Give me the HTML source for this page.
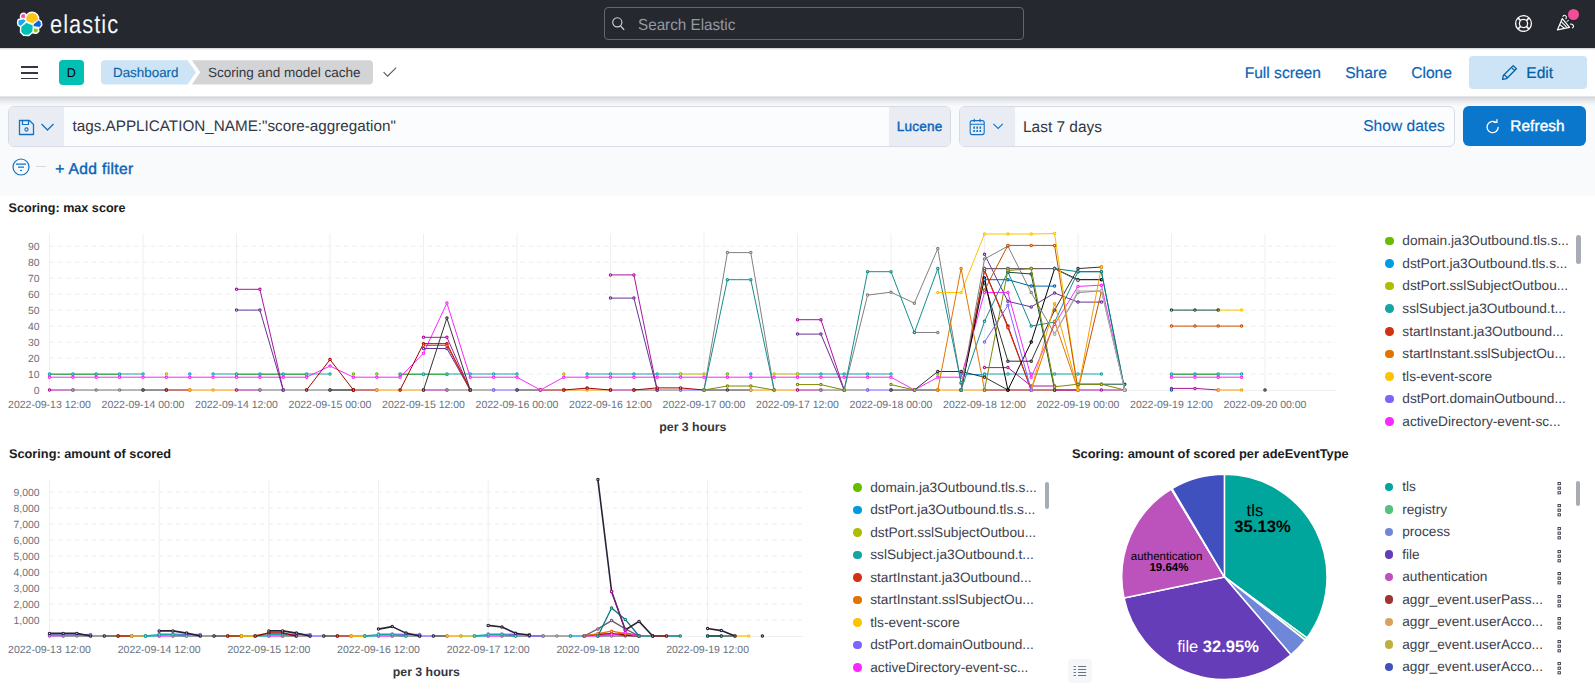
<!DOCTYPE html>
<html><head><meta charset="utf-8"><title>Scoring and model cache - Elastic</title>
<style>
html,body{margin:0;padding:0;width:1595px;height:691px;overflow:hidden;background:#fff;font-family:'Liberation Sans', Arial, sans-serif;text-rendering:geometricPrecision;}
div{white-space:nowrap;}
</style></head><body>

<div style="position:absolute;left:0;top:0;width:1595px;height:48px;background:#25282f;"></div>
<svg style="position:absolute;left:14px;top:8px" width="32" height="32" viewBox="0 0 32 32"><path d="M11.9 11.4 A6.25 6.25 0 1 1 24.3 11.9 L18.5 15.7 L12.6 13.3 Z M7 7.2 Q8 5.4 10.2 5.7 L11.2 6.4 L11.4 10.3 L7.2 10.2 Q6.5 8.5 7 7.2 Z M4.6 11.9 L9.6 10.9 L11.8 12.6 L11.9 13.2 L6.8 18.3 L4.5 17 L3.9 14.5 Z M7 18.8 L12.4 14.5 L18.7 16.9 L19 17.4 L18.8 23.6 L14.6 27.1 L9.8 27 L6.9 24 Z M19.3 16.2 L24.5 12.1 L26.8 13.7 L27.4 16.8 L25.6 19.4 L19.5 18.4 Z M19.4 19.9 L24 20.6 L24.4 23.2 L22.4 24.8 L19.7 24.7 Z" fill="#fff" stroke="#fff" stroke-width="2.2" stroke-linejoin="round"/><g stroke="#fff" stroke-width="0.7" stroke-linejoin="round"><path d="M11.9 11.4 A6.25 6.25 0 1 1 24.3 11.9 L18.5 15.7 L12.6 13.3 Z" fill="#fec514"/><path d="M7 7.2 Q8 5.4 10.2 5.7 L11.2 6.4 L11.4 10.3 L7.2 10.2 Q6.5 8.5 7 7.2 Z" fill="#f04e98"/><path d="M4.6 11.9 L9.6 10.9 L11.8 12.6 L11.9 13.2 L6.8 18.3 L4.5 17 L3.9 14.5 Z" fill="#1ba9f5"/><path d="M7 18.8 L12.4 14.5 L18.7 16.9 L19 17.4 L18.8 23.6 L14.6 27.1 L9.8 27 L6.9 24 Z" fill="#00bfb3"/><path d="M19.3 16.2 L24.5 12.1 L26.8 13.7 L27.4 16.8 L25.6 19.4 L19.5 18.4 Z" fill="#0b64dd"/><path d="M19.4 19.9 L24 20.6 L24.4 23.2 L22.4 24.8 L19.7 24.7 Z" fill="#93c90e"/></g></svg>
<div style="position:absolute;left:50.4px;top:9.6px;font-family:'Liberation Sans', Arial, sans-serif;font-size:23.5px;line-height:normal;color:#f5f7fa;letter-spacing:1.1px;transform:scale(0.93,1.1);transform-origin:0 0;">elastic</div>
<div style="position:absolute;left:604px;top:7px;width:418px;height:31px;border:1px solid #62666e;border-radius:4px;"></div>
<svg style="position:absolute;left:611px;top:15.7px" width="16" height="16" viewBox="0 0 16 16"><circle cx="6.3" cy="6.3" r="4.6" fill="none" stroke="#d4d8de" stroke-width="1.1"/><path d="M9.6 10 L13.2 13.8" stroke="#d4d8de" stroke-width="1.2"/></svg>
<div style="position:absolute;left:638.00px;top:17.00px;font-family:'Liberation Sans', Arial, sans-serif;font-size:16px;font-weight:normal;line-height:normal;color:#959aa3;transform:scaleX(0.952);transform-origin:0 0;">Search Elastic</div>
<svg style="position:absolute;left:1514px;top:14px" width="19" height="19" viewBox="0 0 19 19"><circle cx="9.5" cy="9.5" r="7.9" fill="none" stroke="#fff" stroke-width="1.3"/><circle cx="9.5" cy="9.5" r="4.1" fill="none" stroke="#fff" stroke-width="1.3"/><path d="M3.9 3.9 L6.6 6.6 M15.1 3.9 L12.4 6.6 M3.9 15.1 L6.6 12.4 M15.1 15.1 L12.4 12.4" stroke="#fff" stroke-width="1.5"/></svg>
<svg style="position:absolute;left:1555px;top:13px" width="22" height="20" viewBox="0 0 22 20"><path d="M2.4 16.9 L7.3 5.6 L14.5 14.3 Z" fill="none" stroke="#fff" stroke-width="1.2" stroke-linejoin="round"/><path d="M4.9 11.6 L9.6 15.5 M6.3 8.6 L11.9 14.3" stroke="#fff" stroke-width="1.05"/><path d="M7.9 3.4 Q9.6 1.2 11.3 3.6 Q11.6 4.8 10.8 5.8" stroke="#fff" stroke-width="1.05" fill="none" stroke-linecap="round"/><path d="M15.4 11.1 Q18.2 10.9 18.6 13.4 Q18.3 14.6 17.4 14.9" stroke="#fff" stroke-width="1.05" fill="none" stroke-linecap="round"/><path d="M11.6 8.6 L13.8 7.2" stroke="#fff" stroke-width="1"/></svg>
<div style="position:absolute;left:1568.1px;top:9.4px;width:11px;height:11px;border-radius:50%;background:#f04e98;"></div>


<div style="position:absolute;left:0;top:48px;width:1595px;height:48px;background:#fff;"></div>
<div style="position:absolute;left:0;top:48px;width:1595px;height:3px;background:linear-gradient(to bottom,#c9ccd1,#f3f4f6 1.5px,#fff 3px);"></div>
<div style="position:absolute;left:21px;top:66px;width:17px;height:1.8px;background:#343741;"></div>
<div style="position:absolute;left:21px;top:72.1px;width:17px;height:1.8px;background:#343741;"></div>
<div style="position:absolute;left:21px;top:77.5px;width:17px;height:1.8px;background:#343741;"></div>
<div style="position:absolute;left:58.7px;top:60px;width:25.3px;height:24.7px;border-radius:4px;background:#00bfb3;"></div>
<div style="position:absolute;left:66.80px;top:66.00px;font-family:'Liberation Sans', Arial, sans-serif;font-size:12.6px;font-weight:normal;line-height:normal;color:#000;">D</div>
<svg style="position:absolute;left:100px;top:60px" width="275" height="25" viewBox="0 0 275 25">
  <path d="M5 0.2 L87.5 0.2 L96 12.3 L87.5 24.5 L5 24.5 Q1 24.5 1 20.5 L1 4.2 Q1 0.2 5 0.2 Z" fill="#cce4f5"/>
  <path d="M91.8 0.2 L269 0.2 Q273 0.2 273 4.2 L273 20.5 Q273 24.5 269 24.5 L91.8 24.5 L100.3 12.3 Z" fill="#d3d4d6"/>
</svg>
<div style="position:absolute;left:113.20px;top:65.00px;font-family:'Liberation Sans', Arial, sans-serif;font-size:13.2px;font-weight:normal;line-height:normal;color:#0b64a8;transform:scaleX(1.015);transform-origin:0 0;-webkit-text-stroke:0.15px #0b64a8;">Dashboard</div>
<div style="position:absolute;left:208.40px;top:65.00px;font-family:'Liberation Sans', Arial, sans-serif;font-size:13.4px;font-weight:normal;line-height:normal;color:#343741;transform:scaleX(1.01);transform-origin:0 0;">Scoring and model cache</div>
<svg style="position:absolute;left:382px;top:65px" width="16" height="14" viewBox="0 0 16 14"><path d="M1.6 7.2 L5.6 11.2 L14.2 2.6" fill="none" stroke="#5a606b" stroke-width="1.2"/></svg>
<div style="position:absolute;left:1244.65px;top:65.00px;font-family:'Liberation Sans', Arial, sans-serif;font-size:15.6px;font-weight:normal;line-height:normal;color:#0b64b8;-webkit-text-stroke:0.2px #0b64b8;">Full screen</div>
<div style="position:absolute;left:1345.20px;top:65.00px;font-family:'Liberation Sans', Arial, sans-serif;font-size:15.6px;font-weight:normal;line-height:normal;color:#0b64b8;-webkit-text-stroke:0.2px #0b64b8;">Share</div>
<div style="position:absolute;left:1411.20px;top:65.00px;font-family:'Liberation Sans', Arial, sans-serif;font-size:15.6px;font-weight:normal;line-height:normal;color:#0b64b8;-webkit-text-stroke:0.2px #0b64b8;">Clone</div>
<div style="position:absolute;left:1469px;top:56px;width:118px;height:32.8px;border-radius:4px;background:#cce4f5;"></div>
<svg style="position:absolute;left:1501px;top:64px" width="17" height="17" viewBox="0 0 17 17"><path d="M12.2 1.6 L15.4 4.8 L5.5 14.7 L1.6 15.4 L2.3 11.5 Z M10.4 3.4 L13.6 6.6 M3.2 10.6 L6.4 13.8" fill="none" stroke="#0061a6" stroke-width="1.3" stroke-linejoin="round"/></svg>
<div style="position:absolute;left:1526.30px;top:65.00px;font-family:'Liberation Sans', Arial, sans-serif;font-size:15.6px;font-weight:normal;line-height:normal;color:#0061a6;-webkit-text-stroke:0.2px #0061a6;">Edit</div>


<div style="position:absolute;left:0;top:96px;width:1595px;height:99.6px;background:#f9fafc;"></div>
<div style="position:absolute;left:0;top:96px;width:1595px;height:10px;background:linear-gradient(to bottom,#eef0f3 0px,#d4d6db 1.5px,#dcdee2 2.5px,#eceef1 6px,#f9fafc 10px);"></div>
<div style="position:absolute;left:8px;top:106px;width:941px;height:39px;border:1px solid #d6dbe6;border-radius:6px;background:#fbfcfd;overflow:hidden;">
  <div style="position:absolute;left:0;top:0;width:55px;height:39px;background:#e9edf3;"></div>
  <div style="position:absolute;right:0;top:0;width:61px;height:39px;background:#e9edf3;"></div>
</div>
<svg style="position:absolute;left:18px;top:119px" width="17" height="17" viewBox="0 0 17 17"><path d="M1.5 1.5 L11.5 1.5 L15.5 5.5 L15.5 15.5 L1.5 15.5 Z" fill="none" stroke="#1271c4" stroke-width="1.3" stroke-linejoin="round"/><path d="M4.5 1.5 L4.5 5.5 L10.5 5.5 L10.5 1.5" fill="none" stroke="#1271c4" stroke-width="1.2"/><circle cx="8.5" cy="10.5" r="1.6" fill="none" stroke="#1271c4" stroke-width="1.1"/></svg>
<svg style="position:absolute;left:40px;top:122px" width="15" height="10" viewBox="0 0 15 10"><path d="M1.5 2 L7.5 8 L13.5 2" fill="none" stroke="#1271c4" stroke-width="1.3"/></svg>
<div style="position:absolute;left:72.50px;top:118.00px;font-family:'Liberation Sans', Arial, sans-serif;font-size:15.25px;font-weight:normal;line-height:normal;color:#343741;">tags.APPLICATION_NAME:"score-aggregation"</div>
<div style="position:absolute;left:896.80px;top:119.00px;font-family:'Liberation Sans', Arial, sans-serif;font-size:13.6px;font-weight:normal;line-height:normal;color:#0b64b8;-webkit-text-stroke:0.4px #0b64b8;letter-spacing:0.2px;">Lucene</div>
<div style="position:absolute;left:959px;top:106px;width:494px;height:39px;border:1px solid #d6dbe6;border-radius:6px;background:#fbfcfd;overflow:hidden;">
  <div style="position:absolute;left:0;top:0;width:55px;height:39px;background:#e9edf3;"></div>
</div>
<svg style="position:absolute;left:968px;top:117px" width="18" height="19" viewBox="0 0 18 19"><rect x="2.2" y="3.6" width="14" height="14" rx="2" fill="none" stroke="#1271c4" stroke-width="1.1"/><path d="M2.2 7.2 H16.2 M6.3 1.8 V5 M12.1 1.8 V5" stroke="#1271c4" stroke-width="1.1"/><path d="M6.1 9.6 v2.2 M9.2 9.6 v2.2 M12.3 9.6 v2.2 M6.1 12.9 v2.2 M9.2 12.9 v2.2 M12.3 12.9 v2.2" stroke="#1271c4" stroke-width="1.6"/></svg>
<svg style="position:absolute;left:992px;top:123px" width="13" height="8" viewBox="0 0 13 8"><path d="M1.4 0.9 L6.1 5.4 L10.8 0.9" fill="none" stroke="#1271c4" stroke-width="1.1"/></svg>
<div style="position:absolute;left:1022.50px;top:119.00px;font-family:'Liberation Sans', Arial, sans-serif;font-size:15.6px;font-weight:normal;line-height:normal;color:#343741;transform:scaleX(0.99);transform-origin:0 0;">Last 7 days</div>
<div style="position:absolute;left:1363.20px;top:118.00px;font-family:'Liberation Sans', Arial, sans-serif;font-size:15.6px;font-weight:normal;line-height:normal;color:#0b64b8;-webkit-text-stroke:0.15px #0b64b8;">Show dates</div>
<div style="position:absolute;left:1463px;top:106px;width:123.4px;height:40.3px;border-radius:6px;background:#0b77cc;"></div>
<svg style="position:absolute;left:1485px;top:119px" width="16" height="16" viewBox="0 0 16 16"><path d="M13.2 8 A5.6 5.6 0 1 1 11 3.6" fill="none" stroke="#fff" stroke-width="1.3"/><path d="M8.6 3.3 L11.9 3.3 L11.9 0.2" fill="none" stroke="#fff" stroke-width="1.3"/></svg>
<div style="position:absolute;left:1510.20px;top:118.00px;font-family:'Liberation Sans', Arial, sans-serif;font-size:15.4px;font-weight:normal;line-height:normal;color:#fff;-webkit-text-stroke:0.4px #fff;letter-spacing:0.1px;">Refresh</div>
<svg style="position:absolute;left:11px;top:158px" width="20" height="19" viewBox="0 0 20 19"><circle cx="10" cy="9" r="8" fill="none" stroke="#1271c4" stroke-width="1.2"/><path d="M5 6.2 H15 M7 9.2 H13 M9 12.5 H11" stroke="#1271c4" stroke-width="1.2"/></svg>
<div style="position:absolute;left:36px;top:166px;width:10px;height:1px;background:#d3dae6;"></div>
<div style="position:absolute;left:55.20px;top:161.00px;font-family:'Liberation Sans', Arial, sans-serif;font-size:15.6px;font-weight:normal;line-height:normal;color:#0b64b8;-webkit-text-stroke:0.4px #0b64b8;letter-spacing:0.35px;">+ Add filter</div>

<svg style="position:absolute;left:0;top:0" width="1595" height="691" viewBox="0 0 1595 691" font-family="Liberation Sans, Arial, sans-serif">
<line x1="50" y1="374.0" x2="1336" y2="374.0" stroke="#ebecee" stroke-width="1" stroke-dasharray="4.2 4.2"/>
<line x1="50" y1="358.0" x2="1336" y2="358.0" stroke="#ebecee" stroke-width="1" stroke-dasharray="4.2 4.2"/>
<line x1="50" y1="342.1" x2="1336" y2="342.1" stroke="#ebecee" stroke-width="1" stroke-dasharray="4.2 4.2"/>
<line x1="50" y1="326.1" x2="1336" y2="326.1" stroke="#ebecee" stroke-width="1" stroke-dasharray="4.2 4.2"/>
<line x1="50" y1="310.1" x2="1336" y2="310.1" stroke="#ebecee" stroke-width="1" stroke-dasharray="4.2 4.2"/>
<line x1="50" y1="294.1" x2="1336" y2="294.1" stroke="#ebecee" stroke-width="1" stroke-dasharray="4.2 4.2"/>
<line x1="50" y1="278.1" x2="1336" y2="278.1" stroke="#ebecee" stroke-width="1" stroke-dasharray="4.2 4.2"/>
<line x1="50" y1="262.2" x2="1336" y2="262.2" stroke="#ebecee" stroke-width="1" stroke-dasharray="4.2 4.2"/>
<line x1="50" y1="246.2" x2="1336" y2="246.2" stroke="#ebecee" stroke-width="1" stroke-dasharray="4.2 4.2"/>
<line x1="49.5" y1="233.5" x2="49.5" y2="390" stroke="#efeff1" stroke-width="1"/>
<line x1="143.0" y1="233.5" x2="143.0" y2="390" stroke="#efeff1" stroke-width="1"/>
<line x1="236.5" y1="233.5" x2="236.5" y2="390" stroke="#efeff1" stroke-width="1"/>
<line x1="330.0" y1="233.5" x2="330.0" y2="390" stroke="#efeff1" stroke-width="1"/>
<line x1="423.5" y1="233.5" x2="423.5" y2="390" stroke="#efeff1" stroke-width="1"/>
<line x1="517.0" y1="233.5" x2="517.0" y2="390" stroke="#efeff1" stroke-width="1"/>
<line x1="610.5" y1="233.5" x2="610.5" y2="390" stroke="#efeff1" stroke-width="1"/>
<line x1="704.0" y1="233.5" x2="704.0" y2="390" stroke="#efeff1" stroke-width="1"/>
<line x1="797.5" y1="233.5" x2="797.5" y2="390" stroke="#efeff1" stroke-width="1"/>
<line x1="891.0" y1="233.5" x2="891.0" y2="390" stroke="#efeff1" stroke-width="1"/>
<line x1="984.5" y1="233.5" x2="984.5" y2="390" stroke="#efeff1" stroke-width="1"/>
<line x1="1078.0" y1="233.5" x2="1078.0" y2="390" stroke="#efeff1" stroke-width="1"/>
<line x1="1171.5" y1="233.5" x2="1171.5" y2="390" stroke="#efeff1" stroke-width="1"/>
<line x1="1265.0" y1="233.5" x2="1265.0" y2="390" stroke="#efeff1" stroke-width="1"/>
<line x1="49.5" y1="390.5" x2="1336" y2="390.5" stroke="#efeff1" stroke-width="1"/>
<text x="39.5" y="393.7" text-anchor="end" font-size="10.4" fill="#69707d">0</text>
<text x="39.5" y="377.7" text-anchor="end" font-size="10.4" fill="#69707d">10</text>
<text x="39.5" y="361.7" text-anchor="end" font-size="10.4" fill="#69707d">20</text>
<text x="39.5" y="345.8" text-anchor="end" font-size="10.4" fill="#69707d">30</text>
<text x="39.5" y="329.8" text-anchor="end" font-size="10.4" fill="#69707d">40</text>
<text x="39.5" y="313.8" text-anchor="end" font-size="10.4" fill="#69707d">50</text>
<text x="39.5" y="297.8" text-anchor="end" font-size="10.4" fill="#69707d">60</text>
<text x="39.5" y="281.8" text-anchor="end" font-size="10.4" fill="#69707d">70</text>
<text x="39.5" y="265.9" text-anchor="end" font-size="10.4" fill="#69707d">80</text>
<text x="39.5" y="249.9" text-anchor="end" font-size="10.4" fill="#69707d">90</text>
<text x="49.5" y="408.2" text-anchor="middle" font-size="10.5" fill="#69707d">2022-09-13 12:00</text>
<text x="143.0" y="408.2" text-anchor="middle" font-size="10.5" fill="#69707d">2022-09-14 00:00</text>
<text x="236.5" y="408.2" text-anchor="middle" font-size="10.5" fill="#69707d">2022-09-14 12:00</text>
<text x="330.0" y="408.2" text-anchor="middle" font-size="10.5" fill="#69707d">2022-09-15 00:00</text>
<text x="423.5" y="408.2" text-anchor="middle" font-size="10.5" fill="#69707d">2022-09-15 12:00</text>
<text x="517.0" y="408.2" text-anchor="middle" font-size="10.5" fill="#69707d">2022-09-16 00:00</text>
<text x="610.5" y="408.2" text-anchor="middle" font-size="10.5" fill="#69707d">2022-09-16 12:00</text>
<text x="704.0" y="408.2" text-anchor="middle" font-size="10.5" fill="#69707d">2022-09-17 00:00</text>
<text x="797.5" y="408.2" text-anchor="middle" font-size="10.5" fill="#69707d">2022-09-17 12:00</text>
<text x="891.0" y="408.2" text-anchor="middle" font-size="10.5" fill="#69707d">2022-09-18 00:00</text>
<text x="984.5" y="408.2" text-anchor="middle" font-size="10.5" fill="#69707d">2022-09-18 12:00</text>
<text x="1078.0" y="408.2" text-anchor="middle" font-size="10.5" fill="#69707d">2022-09-19 00:00</text>
<text x="1171.5" y="408.2" text-anchor="middle" font-size="10.5" fill="#69707d">2022-09-19 12:00</text>
<text x="1265.0" y="408.2" text-anchor="middle" font-size="10.5" fill="#69707d">2022-09-20 00:00</text>
<text x="692.8" y="430.5" text-anchor="middle" font-size="12.3" font-weight="bold" fill="#343741">per 3 hours</text>
<polyline points="49.5,390.0 72.9,390.0" fill="none" stroke="#ab149e" stroke-width="1.0" stroke-linejoin="round"/>
<circle cx="49.5" cy="390.0" r="1.15" fill="#fff" stroke="#ab149e" stroke-width="1.2"/>
<circle cx="72.9" cy="390.0" r="1.15" fill="#fff" stroke="#ab149e" stroke-width="1.2"/>
<polyline points="72.9,390.0 96.2,390.0 119.6,390.0 143.0,390.0" fill="none" stroke="#777777" stroke-width="1.0" stroke-linejoin="round"/>
<circle cx="72.9" cy="390.0" r="1.15" fill="#fff" stroke="#777777" stroke-width="1.2"/>
<circle cx="96.2" cy="390.0" r="1.15" fill="#fff" stroke="#777777" stroke-width="1.2"/>
<circle cx="119.6" cy="390.0" r="1.15" fill="#fff" stroke="#777777" stroke-width="1.2"/>
<circle cx="143.0" cy="390.0" r="1.15" fill="#fff" stroke="#777777" stroke-width="1.2"/>
<polyline points="143.0,390.0 166.4,390.0" fill="none" stroke="#333333" stroke-width="1.0" stroke-linejoin="round"/>
<circle cx="143.0" cy="390.0" r="1.15" fill="#fff" stroke="#333333" stroke-width="1.2"/>
<circle cx="166.4" cy="390.0" r="1.15" fill="#fff" stroke="#333333" stroke-width="1.2"/>
<polyline points="166.4,390.0 189.8,390.0" fill="none" stroke="#9f0500" stroke-width="1.0" stroke-linejoin="round"/>
<circle cx="166.4" cy="390.0" r="1.15" fill="#fff" stroke="#9f0500" stroke-width="1.2"/>
<circle cx="189.8" cy="390.0" r="1.15" fill="#fff" stroke="#9f0500" stroke-width="1.2"/>
<polyline points="189.8,390.0 213.1,390.0 236.5,390.0" fill="none" stroke="#fb9e00" stroke-width="1.0" stroke-linejoin="round"/>
<circle cx="189.8" cy="390.0" r="1.15" fill="#fff" stroke="#fb9e00" stroke-width="1.2"/>
<circle cx="213.1" cy="390.0" r="1.15" fill="#fff" stroke="#fb9e00" stroke-width="1.2"/>
<circle cx="236.5" cy="390.0" r="1.15" fill="#fff" stroke="#fb9e00" stroke-width="1.2"/>
<polyline points="236.5,390.0 259.9,390.0" fill="none" stroke="#ab149e" stroke-width="1.0" stroke-linejoin="round"/>
<circle cx="236.5" cy="390.0" r="1.15" fill="#fff" stroke="#ab149e" stroke-width="1.2"/>
<circle cx="259.9" cy="390.0" r="1.15" fill="#fff" stroke="#ab149e" stroke-width="1.2"/>
<polyline points="259.9,390.0 283.2,390.0 306.6,390.0 330.0,390.0 353.4,390.0" fill="none" stroke="#777777" stroke-width="1.0" stroke-linejoin="round"/>
<circle cx="259.9" cy="390.0" r="1.15" fill="#fff" stroke="#777777" stroke-width="1.2"/>
<circle cx="283.2" cy="390.0" r="1.15" fill="#fff" stroke="#777777" stroke-width="1.2"/>
<circle cx="306.6" cy="390.0" r="1.15" fill="#fff" stroke="#777777" stroke-width="1.2"/>
<circle cx="330.0" cy="390.0" r="1.15" fill="#fff" stroke="#777777" stroke-width="1.2"/>
<circle cx="353.4" cy="390.0" r="1.15" fill="#fff" stroke="#777777" stroke-width="1.2"/>
<polyline points="330.0,390.0 353.4,390.0" fill="none" stroke="#333333" stroke-width="1.0" stroke-linejoin="round"/>
<circle cx="330.0" cy="390.0" r="1.15" fill="#fff" stroke="#333333" stroke-width="1.2"/>
<circle cx="353.4" cy="390.0" r="1.15" fill="#fff" stroke="#333333" stroke-width="1.2"/>
<polyline points="353.4,390.0 376.8,390.0" fill="none" stroke="#9f0500" stroke-width="1.0" stroke-linejoin="round"/>
<circle cx="353.4" cy="390.0" r="1.15" fill="#fff" stroke="#9f0500" stroke-width="1.2"/>
<circle cx="376.8" cy="390.0" r="1.15" fill="#fff" stroke="#9f0500" stroke-width="1.2"/>
<polyline points="376.8,390.0 400.1,390.0 423.5,390.0" fill="none" stroke="#fb9e00" stroke-width="1.0" stroke-linejoin="round"/>
<circle cx="376.8" cy="390.0" r="1.15" fill="#fff" stroke="#fb9e00" stroke-width="1.2"/>
<circle cx="400.1" cy="390.0" r="1.15" fill="#fff" stroke="#fb9e00" stroke-width="1.2"/>
<circle cx="423.5" cy="390.0" r="1.15" fill="#fff" stroke="#fb9e00" stroke-width="1.2"/>
<polyline points="423.5,390.0 446.9,390.0" fill="none" stroke="#ab149e" stroke-width="1.0" stroke-linejoin="round"/>
<circle cx="423.5" cy="390.0" r="1.15" fill="#fff" stroke="#ab149e" stroke-width="1.2"/>
<circle cx="446.9" cy="390.0" r="1.15" fill="#fff" stroke="#ab149e" stroke-width="1.2"/>
<polyline points="446.9,390.0 470.2,390.0 493.6,390.0" fill="none" stroke="#777777" stroke-width="1.0" stroke-linejoin="round"/>
<circle cx="446.9" cy="390.0" r="1.15" fill="#fff" stroke="#777777" stroke-width="1.2"/>
<circle cx="470.2" cy="390.0" r="1.15" fill="#fff" stroke="#777777" stroke-width="1.2"/>
<circle cx="493.6" cy="390.0" r="1.15" fill="#fff" stroke="#777777" stroke-width="1.2"/>
<polyline points="493.6,390.0 517.0,390.0" fill="none" stroke="#7b64ff" stroke-width="1.0" stroke-linejoin="round"/>
<circle cx="493.6" cy="390.0" r="1.15" fill="#fff" stroke="#7b64ff" stroke-width="1.2"/>
<circle cx="517.0" cy="390.0" r="1.15" fill="#fff" stroke="#7b64ff" stroke-width="1.2"/>
<polyline points="517.0,390.0 540.4,390.0" fill="none" stroke="#333333" stroke-width="1.0" stroke-linejoin="round"/>
<circle cx="517.0" cy="390.0" r="1.15" fill="#fff" stroke="#333333" stroke-width="1.2"/>
<circle cx="540.4" cy="390.0" r="1.15" fill="#fff" stroke="#333333" stroke-width="1.2"/>
<polyline points="540.4,390.0 563.8,390.0" fill="none" stroke="#9f0500" stroke-width="1.0" stroke-linejoin="round"/>
<circle cx="540.4" cy="390.0" r="1.15" fill="#fff" stroke="#9f0500" stroke-width="1.2"/>
<circle cx="563.8" cy="390.0" r="1.15" fill="#fff" stroke="#9f0500" stroke-width="1.2"/>
<polyline points="563.8,390.0 587.1,390.0 610.5,390.0" fill="none" stroke="#fb9e00" stroke-width="1.0" stroke-linejoin="round"/>
<circle cx="563.8" cy="390.0" r="1.15" fill="#fff" stroke="#fb9e00" stroke-width="1.2"/>
<circle cx="587.1" cy="390.0" r="1.15" fill="#fff" stroke="#fb9e00" stroke-width="1.2"/>
<circle cx="610.5" cy="390.0" r="1.15" fill="#fff" stroke="#fb9e00" stroke-width="1.2"/>
<polyline points="610.5,390.0 633.9,390.0" fill="none" stroke="#ab149e" stroke-width="1.0" stroke-linejoin="round"/>
<circle cx="610.5" cy="390.0" r="1.15" fill="#fff" stroke="#ab149e" stroke-width="1.2"/>
<circle cx="633.9" cy="390.0" r="1.15" fill="#fff" stroke="#ab149e" stroke-width="1.2"/>
<polyline points="633.9,390.0 657.2,390.0 680.6,390.0" fill="none" stroke="#777777" stroke-width="1.0" stroke-linejoin="round"/>
<circle cx="633.9" cy="390.0" r="1.15" fill="#fff" stroke="#777777" stroke-width="1.2"/>
<circle cx="657.2" cy="390.0" r="1.15" fill="#fff" stroke="#777777" stroke-width="1.2"/>
<circle cx="680.6" cy="390.0" r="1.15" fill="#fff" stroke="#777777" stroke-width="1.2"/>
<polyline points="680.6,390.0 704.0,390.0" fill="none" stroke="#7b64ff" stroke-width="1.0" stroke-linejoin="round"/>
<circle cx="680.6" cy="390.0" r="1.15" fill="#fff" stroke="#7b64ff" stroke-width="1.2"/>
<circle cx="704.0" cy="390.0" r="1.15" fill="#fff" stroke="#7b64ff" stroke-width="1.2"/>
<polyline points="704.0,390.0 727.4,390.0 750.8,390.0" fill="none" stroke="#333333" stroke-width="1.0" stroke-linejoin="round"/>
<circle cx="704.0" cy="390.0" r="1.15" fill="#fff" stroke="#333333" stroke-width="1.2"/>
<circle cx="727.4" cy="390.0" r="1.15" fill="#fff" stroke="#333333" stroke-width="1.2"/>
<circle cx="750.8" cy="390.0" r="1.15" fill="#fff" stroke="#333333" stroke-width="1.2"/>
<polyline points="750.8,390.0 774.1,390.0 797.5,390.0" fill="none" stroke="#fb9e00" stroke-width="1.0" stroke-linejoin="round"/>
<circle cx="750.8" cy="390.0" r="1.15" fill="#fff" stroke="#fb9e00" stroke-width="1.2"/>
<circle cx="774.1" cy="390.0" r="1.15" fill="#fff" stroke="#fb9e00" stroke-width="1.2"/>
<circle cx="797.5" cy="390.0" r="1.15" fill="#fff" stroke="#fb9e00" stroke-width="1.2"/>
<polyline points="797.5,390.0 820.9,390.0" fill="none" stroke="#ab149e" stroke-width="1.0" stroke-linejoin="round"/>
<circle cx="797.5" cy="390.0" r="1.15" fill="#fff" stroke="#ab149e" stroke-width="1.2"/>
<circle cx="820.9" cy="390.0" r="1.15" fill="#fff" stroke="#ab149e" stroke-width="1.2"/>
<polyline points="820.9,390.0 844.2,390.0 867.6,390.0" fill="none" stroke="#777777" stroke-width="1.0" stroke-linejoin="round"/>
<circle cx="820.9" cy="390.0" r="1.15" fill="#fff" stroke="#777777" stroke-width="1.2"/>
<circle cx="844.2" cy="390.0" r="1.15" fill="#fff" stroke="#777777" stroke-width="1.2"/>
<circle cx="867.6" cy="390.0" r="1.15" fill="#fff" stroke="#777777" stroke-width="1.2"/>
<polyline points="867.6,390.0 891.0,390.0" fill="none" stroke="#7b64ff" stroke-width="1.0" stroke-linejoin="round"/>
<circle cx="867.6" cy="390.0" r="1.15" fill="#fff" stroke="#7b64ff" stroke-width="1.2"/>
<circle cx="891.0" cy="390.0" r="1.15" fill="#fff" stroke="#7b64ff" stroke-width="1.2"/>
<polyline points="891.0,390.0 914.4,390.0 937.8,390.0" fill="none" stroke="#333333" stroke-width="1.0" stroke-linejoin="round"/>
<circle cx="891.0" cy="390.0" r="1.15" fill="#fff" stroke="#333333" stroke-width="1.2"/>
<circle cx="914.4" cy="390.0" r="1.15" fill="#fff" stroke="#333333" stroke-width="1.2"/>
<circle cx="937.8" cy="390.0" r="1.15" fill="#fff" stroke="#333333" stroke-width="1.2"/>
<polyline points="937.8,390.0 961.1,390.0 984.5,390.0" fill="none" stroke="#fb9e00" stroke-width="1.0" stroke-linejoin="round"/>
<circle cx="937.8" cy="390.0" r="1.15" fill="#fff" stroke="#fb9e00" stroke-width="1.2"/>
<circle cx="961.1" cy="390.0" r="1.15" fill="#fff" stroke="#fb9e00" stroke-width="1.2"/>
<circle cx="984.5" cy="390.0" r="1.15" fill="#fff" stroke="#fb9e00" stroke-width="1.2"/>
<polyline points="984.5,390.0 1007.9,390.0 1031.2,390.0 1054.6,390.0 1078.0,390.0" fill="none" stroke="#9f0500" stroke-width="1.0" stroke-linejoin="round"/>
<circle cx="984.5" cy="390.0" r="1.15" fill="#fff" stroke="#9f0500" stroke-width="1.2"/>
<circle cx="1007.9" cy="390.0" r="1.15" fill="#fff" stroke="#9f0500" stroke-width="1.2"/>
<circle cx="1031.2" cy="390.0" r="1.15" fill="#fff" stroke="#9f0500" stroke-width="1.2"/>
<circle cx="1054.6" cy="390.0" r="1.15" fill="#fff" stroke="#9f0500" stroke-width="1.2"/>
<circle cx="1078.0" cy="390.0" r="1.15" fill="#fff" stroke="#9f0500" stroke-width="1.2"/>
<polyline points="1054.6,390.0 1078.0,390.0 1101.4,390.0 1124.8,390.0" fill="none" stroke="#ab149e" stroke-width="1.0" stroke-linejoin="round"/>
<circle cx="1054.6" cy="390.0" r="1.15" fill="#fff" stroke="#ab149e" stroke-width="1.2"/>
<circle cx="1078.0" cy="390.0" r="1.15" fill="#fff" stroke="#ab149e" stroke-width="1.2"/>
<circle cx="1101.4" cy="390.0" r="1.15" fill="#fff" stroke="#ab149e" stroke-width="1.2"/>
<circle cx="1124.8" cy="390.0" r="1.15" fill="#fff" stroke="#ab149e" stroke-width="1.2"/>
<polyline points="49.5,374.5 72.9,374.5 96.2,374.5 119.6,374.5" fill="none" stroke="#68bc00" stroke-width="1.0" stroke-linejoin="round"/>
<circle cx="49.5" cy="374.5" r="1.15" fill="#fff" stroke="#68bc00" stroke-width="1.2"/>
<circle cx="72.9" cy="374.5" r="1.15" fill="#fff" stroke="#68bc00" stroke-width="1.2"/>
<circle cx="96.2" cy="374.5" r="1.15" fill="#fff" stroke="#68bc00" stroke-width="1.2"/>
<circle cx="119.6" cy="374.5" r="1.15" fill="#fff" stroke="#68bc00" stroke-width="1.2"/>
<polyline points="236.5,374.5 259.9,374.5 283.2,374.5 306.6,374.5" fill="none" stroke="#68bc00" stroke-width="1.0" stroke-linejoin="round"/>
<circle cx="236.5" cy="374.5" r="1.15" fill="#fff" stroke="#68bc00" stroke-width="1.2"/>
<circle cx="259.9" cy="374.5" r="1.15" fill="#fff" stroke="#68bc00" stroke-width="1.2"/>
<circle cx="283.2" cy="374.5" r="1.15" fill="#fff" stroke="#68bc00" stroke-width="1.2"/>
<circle cx="306.6" cy="374.5" r="1.15" fill="#fff" stroke="#68bc00" stroke-width="1.2"/>
<polyline points="400.1,374.5 423.5,374.5 446.9,374.5" fill="none" stroke="#68bc00" stroke-width="1.0" stroke-linejoin="round"/>
<circle cx="400.1" cy="374.5" r="1.15" fill="#fff" stroke="#68bc00" stroke-width="1.2"/>
<circle cx="423.5" cy="374.5" r="1.15" fill="#fff" stroke="#68bc00" stroke-width="1.2"/>
<circle cx="446.9" cy="374.5" r="1.15" fill="#fff" stroke="#68bc00" stroke-width="1.2"/>
<polyline points="1171.5,374.5 1194.9,374.5 1218.2,374.5" fill="none" stroke="#68bc00" stroke-width="1.0" stroke-linejoin="round"/>
<circle cx="1171.5" cy="374.5" r="1.15" fill="#fff" stroke="#68bc00" stroke-width="1.2"/>
<circle cx="1194.9" cy="374.5" r="1.15" fill="#fff" stroke="#68bc00" stroke-width="1.2"/>
<circle cx="1218.2" cy="374.5" r="1.15" fill="#fff" stroke="#68bc00" stroke-width="1.2"/>
<polyline points="49.5,374.0 72.9,374.0 96.2,374.0 119.6,374.0 143.0,374.0" fill="none" stroke="#16a5a5" stroke-width="1.0" stroke-linejoin="round"/>
<circle cx="49.5" cy="374.0" r="1.15" fill="#fff" stroke="#16a5a5" stroke-width="1.2"/>
<circle cx="72.9" cy="374.0" r="1.15" fill="#fff" stroke="#16a5a5" stroke-width="1.2"/>
<circle cx="96.2" cy="374.0" r="1.15" fill="#fff" stroke="#16a5a5" stroke-width="1.2"/>
<circle cx="119.6" cy="374.0" r="1.15" fill="#fff" stroke="#16a5a5" stroke-width="1.2"/>
<circle cx="143.0" cy="374.0" r="1.15" fill="#fff" stroke="#16a5a5" stroke-width="1.2"/>
<polyline points="213.1,374.0 236.5,374.0 259.9,374.0 283.2,374.0 306.6,374.0 330.0,374.0" fill="none" stroke="#16a5a5" stroke-width="1.0" stroke-linejoin="round"/>
<circle cx="213.1" cy="374.0" r="1.15" fill="#fff" stroke="#16a5a5" stroke-width="1.2"/>
<circle cx="236.5" cy="374.0" r="1.15" fill="#fff" stroke="#16a5a5" stroke-width="1.2"/>
<circle cx="259.9" cy="374.0" r="1.15" fill="#fff" stroke="#16a5a5" stroke-width="1.2"/>
<circle cx="283.2" cy="374.0" r="1.15" fill="#fff" stroke="#16a5a5" stroke-width="1.2"/>
<circle cx="306.6" cy="374.0" r="1.15" fill="#fff" stroke="#16a5a5" stroke-width="1.2"/>
<circle cx="330.0" cy="374.0" r="1.15" fill="#fff" stroke="#16a5a5" stroke-width="1.2"/>
<polyline points="400.1,374.0 423.5,374.0 446.9,374.0 470.2,374.0 493.6,374.0 517.0,374.0" fill="none" stroke="#16a5a5" stroke-width="1.0" stroke-linejoin="round"/>
<circle cx="400.1" cy="374.0" r="1.15" fill="#fff" stroke="#16a5a5" stroke-width="1.2"/>
<circle cx="423.5" cy="374.0" r="1.15" fill="#fff" stroke="#16a5a5" stroke-width="1.2"/>
<circle cx="446.9" cy="374.0" r="1.15" fill="#fff" stroke="#16a5a5" stroke-width="1.2"/>
<circle cx="470.2" cy="374.0" r="1.15" fill="#fff" stroke="#16a5a5" stroke-width="1.2"/>
<circle cx="493.6" cy="374.0" r="1.15" fill="#fff" stroke="#16a5a5" stroke-width="1.2"/>
<circle cx="517.0" cy="374.0" r="1.15" fill="#fff" stroke="#16a5a5" stroke-width="1.2"/>
<polyline points="587.1,374.0 610.5,374.0 633.9,374.0 657.2,374.0 680.6,374.0" fill="none" stroke="#16a5a5" stroke-width="1.0" stroke-linejoin="round"/>
<circle cx="587.1" cy="374.0" r="1.15" fill="#fff" stroke="#16a5a5" stroke-width="1.2"/>
<circle cx="610.5" cy="374.0" r="1.15" fill="#fff" stroke="#16a5a5" stroke-width="1.2"/>
<circle cx="633.9" cy="374.0" r="1.15" fill="#fff" stroke="#16a5a5" stroke-width="1.2"/>
<circle cx="657.2" cy="374.0" r="1.15" fill="#fff" stroke="#16a5a5" stroke-width="1.2"/>
<circle cx="680.6" cy="374.0" r="1.15" fill="#fff" stroke="#16a5a5" stroke-width="1.2"/>
<polyline points="797.5,374.0 820.9,374.0 844.2,374.0 867.6,374.0 891.0,374.0" fill="none" stroke="#16a5a5" stroke-width="1.0" stroke-linejoin="round"/>
<circle cx="797.5" cy="374.0" r="1.15" fill="#fff" stroke="#16a5a5" stroke-width="1.2"/>
<circle cx="820.9" cy="374.0" r="1.15" fill="#fff" stroke="#16a5a5" stroke-width="1.2"/>
<circle cx="844.2" cy="374.0" r="1.15" fill="#fff" stroke="#16a5a5" stroke-width="1.2"/>
<circle cx="867.6" cy="374.0" r="1.15" fill="#fff" stroke="#16a5a5" stroke-width="1.2"/>
<circle cx="891.0" cy="374.0" r="1.15" fill="#fff" stroke="#16a5a5" stroke-width="1.2"/>
<polyline points="984.5,374.0 1007.9,374.0 1031.2,374.0 1054.6,374.0 1078.0,374.0 1101.4,374.0" fill="none" stroke="#16a5a5" stroke-width="1.0" stroke-linejoin="round"/>
<circle cx="984.5" cy="374.0" r="1.15" fill="#fff" stroke="#16a5a5" stroke-width="1.2"/>
<circle cx="1007.9" cy="374.0" r="1.15" fill="#fff" stroke="#16a5a5" stroke-width="1.2"/>
<circle cx="1031.2" cy="374.0" r="1.15" fill="#fff" stroke="#16a5a5" stroke-width="1.2"/>
<circle cx="1054.6" cy="374.0" r="1.15" fill="#fff" stroke="#16a5a5" stroke-width="1.2"/>
<circle cx="1078.0" cy="374.0" r="1.15" fill="#fff" stroke="#16a5a5" stroke-width="1.2"/>
<circle cx="1101.4" cy="374.0" r="1.15" fill="#fff" stroke="#16a5a5" stroke-width="1.2"/>
<polyline points="1171.5,374.0 1194.9,374.0 1218.2,374.0 1241.6,374.0" fill="none" stroke="#16a5a5" stroke-width="1.0" stroke-linejoin="round"/>
<circle cx="1171.5" cy="374.0" r="1.15" fill="#fff" stroke="#16a5a5" stroke-width="1.2"/>
<circle cx="1194.9" cy="374.0" r="1.15" fill="#fff" stroke="#16a5a5" stroke-width="1.2"/>
<circle cx="1218.2" cy="374.0" r="1.15" fill="#fff" stroke="#16a5a5" stroke-width="1.2"/>
<circle cx="1241.6" cy="374.0" r="1.15" fill="#fff" stroke="#16a5a5" stroke-width="1.2"/>
<circle cx="166.4" cy="374.0" r="1.15" fill="#fff" stroke="#b0bc00" stroke-width="1.2"/>
<circle cx="563.8" cy="374.0" r="1.15" fill="#fff" stroke="#b0bc00" stroke-width="1.2"/>
<polyline points="680.6,374.0 704.0,374.0" fill="none" stroke="#b0bc00" stroke-width="1.0" stroke-linejoin="round"/>
<circle cx="680.6" cy="374.0" r="1.15" fill="#fff" stroke="#b0bc00" stroke-width="1.2"/>
<circle cx="704.0" cy="374.0" r="1.15" fill="#fff" stroke="#b0bc00" stroke-width="1.2"/>
<polyline points="774.1,374.0 797.5,374.0" fill="none" stroke="#b0bc00" stroke-width="1.0" stroke-linejoin="round"/>
<circle cx="774.1" cy="374.0" r="1.15" fill="#fff" stroke="#b0bc00" stroke-width="1.2"/>
<circle cx="797.5" cy="374.0" r="1.15" fill="#fff" stroke="#b0bc00" stroke-width="1.2"/>
<circle cx="353.4" cy="374.0" r="1.15" fill="#fff" stroke="#68bc00" stroke-width="1.2"/>
<circle cx="376.8" cy="374.0" r="1.15" fill="#fff" stroke="#68bc00" stroke-width="1.2"/>
<circle cx="727.4" cy="374.0" r="1.15" fill="#fff" stroke="#68bc00" stroke-width="1.2"/>
<circle cx="937.8" cy="374.0" r="1.15" fill="#fff" stroke="#68bc00" stroke-width="1.2"/>
<circle cx="189.8" cy="374.0" r="1.15" fill="#fff" stroke="#009ce0" stroke-width="1.2"/>
<circle cx="750.8" cy="374.0" r="1.15" fill="#fff" stroke="#009ce0" stroke-width="1.2"/>
<polyline points="961.1,374.0 984.5,374.8" fill="none" stroke="#009ce0" stroke-width="1.0" stroke-linejoin="round"/>
<circle cx="961.1" cy="374.0" r="1.15" fill="#fff" stroke="#009ce0" stroke-width="1.2"/>
<circle cx="984.5" cy="374.8" r="1.15" fill="#fff" stroke="#009ce0" stroke-width="1.2"/>
<polyline points="49.5,377.2 72.9,377.2 96.2,377.2 119.6,377.2 143.0,377.2 166.4,377.2 189.8,377.2 213.1,377.2 236.5,377.2 259.9,377.2 283.2,377.2 306.6,377.2 330.0,366.0 353.4,377.2 376.8,377.2 400.1,377.2 423.5,353.2 446.9,303.1 470.2,377.2 493.6,377.2 517.0,377.2 540.4,390.0 563.8,377.2 587.1,377.2 610.5,377.2 633.9,377.2 657.2,377.2 680.6,377.2 704.0,377.2 727.4,377.2 750.8,377.2 774.1,377.2 797.5,377.2 820.9,377.2 844.2,377.2 867.6,377.2 891.0,377.2 914.4,390.0 937.8,377.2 961.1,377.2 984.5,292.5 1007.9,292.5 1031.2,377.2 1054.6,324.5 1078.0,286.4 1101.4,285.2 1124.8,390.0" fill="none" stroke="#fa28ff" stroke-width="1.0" stroke-linejoin="round"/>
<circle cx="49.5" cy="377.2" r="1.15" fill="#fff" stroke="#fa28ff" stroke-width="1.2"/>
<circle cx="72.9" cy="377.2" r="1.15" fill="#fff" stroke="#fa28ff" stroke-width="1.2"/>
<circle cx="96.2" cy="377.2" r="1.15" fill="#fff" stroke="#fa28ff" stroke-width="1.2"/>
<circle cx="119.6" cy="377.2" r="1.15" fill="#fff" stroke="#fa28ff" stroke-width="1.2"/>
<circle cx="143.0" cy="377.2" r="1.15" fill="#fff" stroke="#fa28ff" stroke-width="1.2"/>
<circle cx="166.4" cy="377.2" r="1.15" fill="#fff" stroke="#fa28ff" stroke-width="1.2"/>
<circle cx="189.8" cy="377.2" r="1.15" fill="#fff" stroke="#fa28ff" stroke-width="1.2"/>
<circle cx="213.1" cy="377.2" r="1.15" fill="#fff" stroke="#fa28ff" stroke-width="1.2"/>
<circle cx="236.5" cy="377.2" r="1.15" fill="#fff" stroke="#fa28ff" stroke-width="1.2"/>
<circle cx="259.9" cy="377.2" r="1.15" fill="#fff" stroke="#fa28ff" stroke-width="1.2"/>
<circle cx="283.2" cy="377.2" r="1.15" fill="#fff" stroke="#fa28ff" stroke-width="1.2"/>
<circle cx="306.6" cy="377.2" r="1.15" fill="#fff" stroke="#fa28ff" stroke-width="1.2"/>
<circle cx="330.0" cy="366.0" r="1.15" fill="#fff" stroke="#fa28ff" stroke-width="1.2"/>
<circle cx="353.4" cy="377.2" r="1.15" fill="#fff" stroke="#fa28ff" stroke-width="1.2"/>
<circle cx="376.8" cy="377.2" r="1.15" fill="#fff" stroke="#fa28ff" stroke-width="1.2"/>
<circle cx="400.1" cy="377.2" r="1.15" fill="#fff" stroke="#fa28ff" stroke-width="1.2"/>
<circle cx="423.5" cy="353.2" r="1.15" fill="#fff" stroke="#fa28ff" stroke-width="1.2"/>
<circle cx="446.9" cy="303.1" r="1.15" fill="#fff" stroke="#fa28ff" stroke-width="1.2"/>
<circle cx="470.2" cy="377.2" r="1.15" fill="#fff" stroke="#fa28ff" stroke-width="1.2"/>
<circle cx="493.6" cy="377.2" r="1.15" fill="#fff" stroke="#fa28ff" stroke-width="1.2"/>
<circle cx="517.0" cy="377.2" r="1.15" fill="#fff" stroke="#fa28ff" stroke-width="1.2"/>
<circle cx="540.4" cy="390.0" r="1.15" fill="#fff" stroke="#fa28ff" stroke-width="1.2"/>
<circle cx="563.8" cy="377.2" r="1.15" fill="#fff" stroke="#fa28ff" stroke-width="1.2"/>
<circle cx="587.1" cy="377.2" r="1.15" fill="#fff" stroke="#fa28ff" stroke-width="1.2"/>
<circle cx="610.5" cy="377.2" r="1.15" fill="#fff" stroke="#fa28ff" stroke-width="1.2"/>
<circle cx="633.9" cy="377.2" r="1.15" fill="#fff" stroke="#fa28ff" stroke-width="1.2"/>
<circle cx="657.2" cy="377.2" r="1.15" fill="#fff" stroke="#fa28ff" stroke-width="1.2"/>
<circle cx="680.6" cy="377.2" r="1.15" fill="#fff" stroke="#fa28ff" stroke-width="1.2"/>
<circle cx="704.0" cy="377.2" r="1.15" fill="#fff" stroke="#fa28ff" stroke-width="1.2"/>
<circle cx="727.4" cy="377.2" r="1.15" fill="#fff" stroke="#fa28ff" stroke-width="1.2"/>
<circle cx="750.8" cy="377.2" r="1.15" fill="#fff" stroke="#fa28ff" stroke-width="1.2"/>
<circle cx="774.1" cy="377.2" r="1.15" fill="#fff" stroke="#fa28ff" stroke-width="1.2"/>
<circle cx="797.5" cy="377.2" r="1.15" fill="#fff" stroke="#fa28ff" stroke-width="1.2"/>
<circle cx="820.9" cy="377.2" r="1.15" fill="#fff" stroke="#fa28ff" stroke-width="1.2"/>
<circle cx="844.2" cy="377.2" r="1.15" fill="#fff" stroke="#fa28ff" stroke-width="1.2"/>
<circle cx="867.6" cy="377.2" r="1.15" fill="#fff" stroke="#fa28ff" stroke-width="1.2"/>
<circle cx="891.0" cy="377.2" r="1.15" fill="#fff" stroke="#fa28ff" stroke-width="1.2"/>
<circle cx="914.4" cy="390.0" r="1.15" fill="#fff" stroke="#fa28ff" stroke-width="1.2"/>
<circle cx="937.8" cy="377.2" r="1.15" fill="#fff" stroke="#fa28ff" stroke-width="1.2"/>
<circle cx="961.1" cy="377.2" r="1.15" fill="#fff" stroke="#fa28ff" stroke-width="1.2"/>
<circle cx="984.5" cy="292.5" r="1.15" fill="#fff" stroke="#fa28ff" stroke-width="1.2"/>
<circle cx="1007.9" cy="292.5" r="1.15" fill="#fff" stroke="#fa28ff" stroke-width="1.2"/>
<circle cx="1031.2" cy="377.2" r="1.15" fill="#fff" stroke="#fa28ff" stroke-width="1.2"/>
<circle cx="1054.6" cy="324.5" r="1.15" fill="#fff" stroke="#fa28ff" stroke-width="1.2"/>
<circle cx="1078.0" cy="286.4" r="1.15" fill="#fff" stroke="#fa28ff" stroke-width="1.2"/>
<circle cx="1101.4" cy="285.2" r="1.15" fill="#fff" stroke="#fa28ff" stroke-width="1.2"/>
<circle cx="1124.8" cy="390.0" r="1.15" fill="#fff" stroke="#fa28ff" stroke-width="1.2"/>
<polyline points="1171.5,377.2 1194.9,377.2 1218.2,377.2 1241.6,377.2" fill="none" stroke="#fa28ff" stroke-width="1.0" stroke-linejoin="round"/>
<circle cx="1171.5" cy="377.2" r="1.15" fill="#fff" stroke="#fa28ff" stroke-width="1.2"/>
<circle cx="1194.9" cy="377.2" r="1.15" fill="#fff" stroke="#fa28ff" stroke-width="1.2"/>
<circle cx="1218.2" cy="377.2" r="1.15" fill="#fff" stroke="#fa28ff" stroke-width="1.2"/>
<circle cx="1241.6" cy="377.2" r="1.15" fill="#fff" stroke="#fa28ff" stroke-width="1.2"/>
<polyline points="236.5,289.3 259.9,289.3 283.2,390.0" fill="none" stroke="#ab149e" stroke-width="1.0" stroke-linejoin="round"/>
<circle cx="236.5" cy="289.3" r="1.15" fill="#fff" stroke="#ab149e" stroke-width="1.2"/>
<circle cx="259.9" cy="289.3" r="1.15" fill="#fff" stroke="#ab149e" stroke-width="1.2"/>
<circle cx="283.2" cy="390.0" r="1.15" fill="#fff" stroke="#ab149e" stroke-width="1.2"/>
<polyline points="423.5,337.3 446.9,337.3 470.2,390.0" fill="none" stroke="#ab149e" stroke-width="1.0" stroke-linejoin="round"/>
<circle cx="423.5" cy="337.3" r="1.15" fill="#fff" stroke="#ab149e" stroke-width="1.2"/>
<circle cx="446.9" cy="337.3" r="1.15" fill="#fff" stroke="#ab149e" stroke-width="1.2"/>
<circle cx="470.2" cy="390.0" r="1.15" fill="#fff" stroke="#ab149e" stroke-width="1.2"/>
<polyline points="610.5,274.9 633.9,274.9 657.2,390.0" fill="none" stroke="#ab149e" stroke-width="1.0" stroke-linejoin="round"/>
<circle cx="610.5" cy="274.9" r="1.15" fill="#fff" stroke="#ab149e" stroke-width="1.2"/>
<circle cx="633.9" cy="274.9" r="1.15" fill="#fff" stroke="#ab149e" stroke-width="1.2"/>
<circle cx="657.2" cy="390.0" r="1.15" fill="#fff" stroke="#ab149e" stroke-width="1.2"/>
<polyline points="797.5,319.7 820.9,319.7 844.2,390.0" fill="none" stroke="#ab149e" stroke-width="1.0" stroke-linejoin="round"/>
<circle cx="797.5" cy="319.7" r="1.15" fill="#fff" stroke="#ab149e" stroke-width="1.2"/>
<circle cx="820.9" cy="319.7" r="1.15" fill="#fff" stroke="#ab149e" stroke-width="1.2"/>
<circle cx="844.2" cy="390.0" r="1.15" fill="#fff" stroke="#ab149e" stroke-width="1.2"/>
<polyline points="984.5,268.6 1007.9,268.6 1031.2,268.6 1054.6,268.6" fill="none" stroke="#ab149e" stroke-width="1.0" stroke-linejoin="round"/>
<circle cx="984.5" cy="268.6" r="1.15" fill="#fff" stroke="#ab149e" stroke-width="1.2"/>
<circle cx="1007.9" cy="268.6" r="1.15" fill="#fff" stroke="#ab149e" stroke-width="1.2"/>
<circle cx="1031.2" cy="268.6" r="1.15" fill="#fff" stroke="#ab149e" stroke-width="1.2"/>
<circle cx="1054.6" cy="268.6" r="1.15" fill="#fff" stroke="#ab149e" stroke-width="1.2"/>
<polyline points="984.5,367.6 1007.9,367.6 1031.2,386.0 1054.6,386.0" fill="none" stroke="#ab149e" stroke-width="1.0" stroke-linejoin="round"/>
<circle cx="984.5" cy="367.6" r="1.15" fill="#fff" stroke="#ab149e" stroke-width="1.2"/>
<circle cx="1007.9" cy="367.6" r="1.15" fill="#fff" stroke="#ab149e" stroke-width="1.2"/>
<circle cx="1031.2" cy="386.0" r="1.15" fill="#fff" stroke="#ab149e" stroke-width="1.2"/>
<circle cx="1054.6" cy="386.0" r="1.15" fill="#fff" stroke="#ab149e" stroke-width="1.2"/>
<polyline points="1171.5,388.4 1194.9,388.4 1218.2,390.0" fill="none" stroke="#ab149e" stroke-width="1.0" stroke-linejoin="round"/>
<circle cx="1171.5" cy="388.4" r="1.15" fill="#fff" stroke="#ab149e" stroke-width="1.2"/>
<circle cx="1194.9" cy="388.4" r="1.15" fill="#fff" stroke="#ab149e" stroke-width="1.2"/>
<circle cx="1218.2" cy="390.0" r="1.15" fill="#fff" stroke="#ab149e" stroke-width="1.2"/>
<polyline points="236.5,310.1 259.9,310.1 283.2,390.0" fill="none" stroke="#653294" stroke-width="1.0" stroke-linejoin="round"/>
<circle cx="236.5" cy="310.1" r="1.15" fill="#fff" stroke="#653294" stroke-width="1.2"/>
<circle cx="259.9" cy="310.1" r="1.15" fill="#fff" stroke="#653294" stroke-width="1.2"/>
<circle cx="283.2" cy="390.0" r="1.15" fill="#fff" stroke="#653294" stroke-width="1.2"/>
<polyline points="423.5,348.5 446.9,348.5 470.2,390.0" fill="none" stroke="#653294" stroke-width="1.0" stroke-linejoin="round"/>
<circle cx="423.5" cy="348.5" r="1.15" fill="#fff" stroke="#653294" stroke-width="1.2"/>
<circle cx="446.9" cy="348.5" r="1.15" fill="#fff" stroke="#653294" stroke-width="1.2"/>
<circle cx="470.2" cy="390.0" r="1.15" fill="#fff" stroke="#653294" stroke-width="1.2"/>
<polyline points="610.5,298.1 633.9,298.1 657.2,390.0" fill="none" stroke="#653294" stroke-width="1.0" stroke-linejoin="round"/>
<circle cx="610.5" cy="298.1" r="1.15" fill="#fff" stroke="#653294" stroke-width="1.2"/>
<circle cx="633.9" cy="298.1" r="1.15" fill="#fff" stroke="#653294" stroke-width="1.2"/>
<circle cx="657.2" cy="390.0" r="1.15" fill="#fff" stroke="#653294" stroke-width="1.2"/>
<polyline points="797.5,334.1 820.9,334.1 844.2,390.0" fill="none" stroke="#653294" stroke-width="1.0" stroke-linejoin="round"/>
<circle cx="797.5" cy="334.1" r="1.15" fill="#fff" stroke="#653294" stroke-width="1.2"/>
<circle cx="820.9" cy="334.1" r="1.15" fill="#fff" stroke="#653294" stroke-width="1.2"/>
<circle cx="844.2" cy="390.0" r="1.15" fill="#fff" stroke="#653294" stroke-width="1.2"/>
<polyline points="984.5,254.2 1007.9,301.3 1031.2,306.9 1054.6,293.0 1078.0,302.1 1101.4,302.1" fill="none" stroke="#653294" stroke-width="1.0" stroke-linejoin="round"/>
<circle cx="984.5" cy="254.2" r="1.15" fill="#fff" stroke="#653294" stroke-width="1.2"/>
<circle cx="1007.9" cy="301.3" r="1.15" fill="#fff" stroke="#653294" stroke-width="1.2"/>
<circle cx="1031.2" cy="306.9" r="1.15" fill="#fff" stroke="#653294" stroke-width="1.2"/>
<circle cx="1054.6" cy="293.0" r="1.15" fill="#fff" stroke="#653294" stroke-width="1.2"/>
<circle cx="1078.0" cy="302.1" r="1.15" fill="#fff" stroke="#653294" stroke-width="1.2"/>
<circle cx="1101.4" cy="302.1" r="1.15" fill="#fff" stroke="#653294" stroke-width="1.2"/>
<polyline points="306.6,390.0 330.0,359.6 353.4,390.0" fill="none" stroke="#9f0500" stroke-width="1.0" stroke-linejoin="round"/>
<circle cx="306.6" cy="390.0" r="1.15" fill="#fff" stroke="#9f0500" stroke-width="1.2"/>
<circle cx="330.0" cy="359.6" r="1.15" fill="#fff" stroke="#9f0500" stroke-width="1.2"/>
<circle cx="353.4" cy="390.0" r="1.15" fill="#fff" stroke="#9f0500" stroke-width="1.2"/>
<polyline points="400.1,390.0 423.5,343.7 446.9,343.7 470.2,390.0" fill="none" stroke="#9f0500" stroke-width="1.0" stroke-linejoin="round"/>
<circle cx="400.1" cy="390.0" r="1.15" fill="#fff" stroke="#9f0500" stroke-width="1.2"/>
<circle cx="423.5" cy="343.7" r="1.15" fill="#fff" stroke="#9f0500" stroke-width="1.2"/>
<circle cx="446.9" cy="343.7" r="1.15" fill="#fff" stroke="#9f0500" stroke-width="1.2"/>
<circle cx="470.2" cy="390.0" r="1.15" fill="#fff" stroke="#9f0500" stroke-width="1.2"/>
<polyline points="563.8,390.0 587.1,388.1 610.5,390.0" fill="none" stroke="#9f0500" stroke-width="1.0" stroke-linejoin="round"/>
<circle cx="563.8" cy="390.0" r="1.15" fill="#fff" stroke="#9f0500" stroke-width="1.2"/>
<circle cx="587.1" cy="388.1" r="1.15" fill="#fff" stroke="#9f0500" stroke-width="1.2"/>
<circle cx="610.5" cy="390.0" r="1.15" fill="#fff" stroke="#9f0500" stroke-width="1.2"/>
<polyline points="633.9,390.0 657.2,387.9 680.6,387.9 704.0,390.0" fill="none" stroke="#9f0500" stroke-width="1.0" stroke-linejoin="round"/>
<circle cx="633.9" cy="390.0" r="1.15" fill="#fff" stroke="#9f0500" stroke-width="1.2"/>
<circle cx="657.2" cy="387.9" r="1.15" fill="#fff" stroke="#9f0500" stroke-width="1.2"/>
<circle cx="680.6" cy="387.9" r="1.15" fill="#fff" stroke="#9f0500" stroke-width="1.2"/>
<circle cx="704.0" cy="390.0" r="1.15" fill="#fff" stroke="#9f0500" stroke-width="1.2"/>
<polyline points="961.1,390.0 984.5,270.1 1007.9,326.1 1031.2,390.0" fill="none" stroke="#9f0500" stroke-width="1.0" stroke-linejoin="round"/>
<circle cx="961.1" cy="390.0" r="1.15" fill="#fff" stroke="#9f0500" stroke-width="1.2"/>
<circle cx="984.5" cy="270.1" r="1.15" fill="#fff" stroke="#9f0500" stroke-width="1.2"/>
<circle cx="1007.9" cy="326.1" r="1.15" fill="#fff" stroke="#9f0500" stroke-width="1.2"/>
<circle cx="1031.2" cy="390.0" r="1.15" fill="#fff" stroke="#9f0500" stroke-width="1.2"/>
<polyline points="423.5,345.3 446.9,345.3 470.2,390.0" fill="none" stroke="#d33115" stroke-width="1.0" stroke-linejoin="round"/>
<circle cx="423.5" cy="345.3" r="1.15" fill="#fff" stroke="#d33115" stroke-width="1.2"/>
<circle cx="446.9" cy="345.3" r="1.15" fill="#fff" stroke="#d33115" stroke-width="1.2"/>
<circle cx="470.2" cy="390.0" r="1.15" fill="#fff" stroke="#d33115" stroke-width="1.2"/>
<polyline points="961.1,390.0 984.5,270.5 1007.9,327.7 1031.2,390.0" fill="none" stroke="#d33115" stroke-width="1.0" stroke-linejoin="round"/>
<circle cx="961.1" cy="390.0" r="1.15" fill="#fff" stroke="#d33115" stroke-width="1.2"/>
<circle cx="984.5" cy="270.5" r="1.15" fill="#fff" stroke="#d33115" stroke-width="1.2"/>
<circle cx="1007.9" cy="327.7" r="1.15" fill="#fff" stroke="#d33115" stroke-width="1.2"/>
<circle cx="1031.2" cy="390.0" r="1.15" fill="#fff" stroke="#d33115" stroke-width="1.2"/>
<polyline points="423.5,390.0 446.9,318.1 470.2,390.0" fill="none" stroke="#333333" stroke-width="1.0" stroke-linejoin="round"/>
<circle cx="423.5" cy="390.0" r="1.15" fill="#fff" stroke="#333333" stroke-width="1.2"/>
<circle cx="446.9" cy="318.1" r="1.15" fill="#fff" stroke="#333333" stroke-width="1.2"/>
<circle cx="470.2" cy="390.0" r="1.15" fill="#fff" stroke="#333333" stroke-width="1.2"/>
<polyline points="914.4,390.0 937.8,371.5 961.1,371.5 984.5,377.2 1007.9,390.0" fill="none" stroke="#333333" stroke-width="1.0" stroke-linejoin="round"/>
<circle cx="914.4" cy="390.0" r="1.15" fill="#fff" stroke="#333333" stroke-width="1.2"/>
<circle cx="937.8" cy="371.5" r="1.15" fill="#fff" stroke="#333333" stroke-width="1.2"/>
<circle cx="961.1" cy="371.5" r="1.15" fill="#fff" stroke="#333333" stroke-width="1.2"/>
<circle cx="984.5" cy="377.2" r="1.15" fill="#fff" stroke="#333333" stroke-width="1.2"/>
<circle cx="1007.9" cy="390.0" r="1.15" fill="#fff" stroke="#333333" stroke-width="1.2"/>
<polyline points="984.5,282.9 1007.9,361.2 1031.2,361.2 1054.6,310.1 1078.0,268.6 1101.4,267.0" fill="none" stroke="#333333" stroke-width="1.0" stroke-linejoin="round"/>
<circle cx="984.5" cy="282.9" r="1.15" fill="#fff" stroke="#333333" stroke-width="1.2"/>
<circle cx="1007.9" cy="361.2" r="1.15" fill="#fff" stroke="#333333" stroke-width="1.2"/>
<circle cx="1031.2" cy="361.2" r="1.15" fill="#fff" stroke="#333333" stroke-width="1.2"/>
<circle cx="1054.6" cy="310.1" r="1.15" fill="#fff" stroke="#333333" stroke-width="1.2"/>
<circle cx="1078.0" cy="268.6" r="1.15" fill="#fff" stroke="#333333" stroke-width="1.2"/>
<circle cx="1101.4" cy="267.0" r="1.15" fill="#fff" stroke="#333333" stroke-width="1.2"/>
<polyline points="961.1,390.0 984.5,278.1 1007.9,390.0 1031.2,342.1 1054.6,268.6 1078.0,279.7 1101.4,279.7" fill="none" stroke="#000000" stroke-width="1.0" stroke-linejoin="round"/>
<circle cx="961.1" cy="390.0" r="1.15" fill="#fff" stroke="#000000" stroke-width="1.2"/>
<circle cx="984.5" cy="278.1" r="1.15" fill="#fff" stroke="#000000" stroke-width="1.2"/>
<circle cx="1007.9" cy="390.0" r="1.15" fill="#fff" stroke="#000000" stroke-width="1.2"/>
<circle cx="1031.2" cy="342.1" r="1.15" fill="#fff" stroke="#000000" stroke-width="1.2"/>
<circle cx="1054.6" cy="268.6" r="1.15" fill="#fff" stroke="#000000" stroke-width="1.2"/>
<circle cx="1078.0" cy="279.7" r="1.15" fill="#fff" stroke="#000000" stroke-width="1.2"/>
<circle cx="1101.4" cy="279.7" r="1.15" fill="#fff" stroke="#000000" stroke-width="1.2"/>
<polyline points="704.0,390.0 727.4,252.6 750.8,252.6 774.1,390.0" fill="none" stroke="#808080" stroke-width="1.0" stroke-linejoin="round"/>
<circle cx="704.0" cy="390.0" r="1.15" fill="#fff" stroke="#808080" stroke-width="1.2"/>
<circle cx="727.4" cy="252.6" r="1.15" fill="#fff" stroke="#808080" stroke-width="1.2"/>
<circle cx="750.8" cy="252.6" r="1.15" fill="#fff" stroke="#808080" stroke-width="1.2"/>
<circle cx="774.1" cy="390.0" r="1.15" fill="#fff" stroke="#808080" stroke-width="1.2"/>
<polyline points="844.2,390.0 867.6,295.1 891.0,292.2 914.4,303.2 937.8,248.6 961.1,383.6" fill="none" stroke="#808080" stroke-width="1.0" stroke-linejoin="round"/>
<circle cx="844.2" cy="390.0" r="1.15" fill="#fff" stroke="#808080" stroke-width="1.2"/>
<circle cx="867.6" cy="295.1" r="1.15" fill="#fff" stroke="#808080" stroke-width="1.2"/>
<circle cx="891.0" cy="292.2" r="1.15" fill="#fff" stroke="#808080" stroke-width="1.2"/>
<circle cx="914.4" cy="303.2" r="1.15" fill="#fff" stroke="#808080" stroke-width="1.2"/>
<circle cx="937.8" cy="248.6" r="1.15" fill="#fff" stroke="#808080" stroke-width="1.2"/>
<circle cx="961.1" cy="383.6" r="1.15" fill="#fff" stroke="#808080" stroke-width="1.2"/>
<polyline points="914.4,332.5 937.8,332.5" fill="none" stroke="#808080" stroke-width="1.0" stroke-linejoin="round"/>
<circle cx="914.4" cy="332.5" r="1.15" fill="#fff" stroke="#808080" stroke-width="1.2"/>
<circle cx="937.8" cy="332.5" r="1.15" fill="#fff" stroke="#808080" stroke-width="1.2"/>
<polyline points="961.1,390.0 984.5,259.0 1007.9,246.2 1031.2,292.5 1054.6,334.1 1078.0,292.5 1101.4,290.9 1124.8,390.0" fill="none" stroke="#808080" stroke-width="1.0" stroke-linejoin="round"/>
<circle cx="961.1" cy="390.0" r="1.15" fill="#fff" stroke="#808080" stroke-width="1.2"/>
<circle cx="984.5" cy="259.0" r="1.15" fill="#fff" stroke="#808080" stroke-width="1.2"/>
<circle cx="1007.9" cy="246.2" r="1.15" fill="#fff" stroke="#808080" stroke-width="1.2"/>
<circle cx="1031.2" cy="292.5" r="1.15" fill="#fff" stroke="#808080" stroke-width="1.2"/>
<circle cx="1054.6" cy="334.1" r="1.15" fill="#fff" stroke="#808080" stroke-width="1.2"/>
<circle cx="1078.0" cy="292.5" r="1.15" fill="#fff" stroke="#808080" stroke-width="1.2"/>
<circle cx="1101.4" cy="290.9" r="1.15" fill="#fff" stroke="#808080" stroke-width="1.2"/>
<circle cx="1124.8" cy="390.0" r="1.15" fill="#fff" stroke="#808080" stroke-width="1.2"/>
<polyline points="984.5,268.6 1007.9,268.6 1031.2,268.6 1054.6,268.6 1078.0,280.4" fill="none" stroke="#666666" stroke-width="1.0" stroke-linejoin="round"/>
<circle cx="984.5" cy="268.6" r="1.15" fill="#fff" stroke="#666666" stroke-width="1.2"/>
<circle cx="1007.9" cy="268.6" r="1.15" fill="#fff" stroke="#666666" stroke-width="1.2"/>
<circle cx="1031.2" cy="268.6" r="1.15" fill="#fff" stroke="#666666" stroke-width="1.2"/>
<circle cx="1054.6" cy="268.6" r="1.15" fill="#fff" stroke="#666666" stroke-width="1.2"/>
<circle cx="1078.0" cy="280.4" r="1.15" fill="#fff" stroke="#666666" stroke-width="1.2"/>
<polyline points="704.0,390.0 727.4,279.7 750.8,279.7 774.1,390.0" fill="none" stroke="#138e8e" stroke-width="1.0" stroke-linejoin="round"/>
<circle cx="704.0" cy="390.0" r="1.15" fill="#fff" stroke="#138e8e" stroke-width="1.2"/>
<circle cx="727.4" cy="279.7" r="1.15" fill="#fff" stroke="#138e8e" stroke-width="1.2"/>
<circle cx="750.8" cy="279.7" r="1.15" fill="#fff" stroke="#138e8e" stroke-width="1.2"/>
<circle cx="774.1" cy="390.0" r="1.15" fill="#fff" stroke="#138e8e" stroke-width="1.2"/>
<polyline points="844.2,390.0 867.6,271.7 891.0,271.7 914.4,332.5 937.8,268.6 961.1,382.5" fill="none" stroke="#138e8e" stroke-width="1.0" stroke-linejoin="round"/>
<circle cx="844.2" cy="390.0" r="1.15" fill="#fff" stroke="#138e8e" stroke-width="1.2"/>
<circle cx="867.6" cy="271.7" r="1.15" fill="#fff" stroke="#138e8e" stroke-width="1.2"/>
<circle cx="891.0" cy="271.7" r="1.15" fill="#fff" stroke="#138e8e" stroke-width="1.2"/>
<circle cx="914.4" cy="332.5" r="1.15" fill="#fff" stroke="#138e8e" stroke-width="1.2"/>
<circle cx="937.8" cy="268.6" r="1.15" fill="#fff" stroke="#138e8e" stroke-width="1.2"/>
<circle cx="961.1" cy="382.5" r="1.15" fill="#fff" stroke="#138e8e" stroke-width="1.2"/>
<polyline points="961.1,390.0 984.5,321.3 1007.9,271.7 1031.2,326.1 1054.6,322.1 1078.0,271.7 1101.4,271.7 1124.8,390.0" fill="none" stroke="#138e8e" stroke-width="1.0" stroke-linejoin="round"/>
<circle cx="961.1" cy="390.0" r="1.15" fill="#fff" stroke="#138e8e" stroke-width="1.2"/>
<circle cx="984.5" cy="321.3" r="1.15" fill="#fff" stroke="#138e8e" stroke-width="1.2"/>
<circle cx="1007.9" cy="271.7" r="1.15" fill="#fff" stroke="#138e8e" stroke-width="1.2"/>
<circle cx="1031.2" cy="326.1" r="1.15" fill="#fff" stroke="#138e8e" stroke-width="1.2"/>
<circle cx="1054.6" cy="322.1" r="1.15" fill="#fff" stroke="#138e8e" stroke-width="1.2"/>
<circle cx="1078.0" cy="271.7" r="1.15" fill="#fff" stroke="#138e8e" stroke-width="1.2"/>
<circle cx="1101.4" cy="271.7" r="1.15" fill="#fff" stroke="#138e8e" stroke-width="1.2"/>
<circle cx="1124.8" cy="390.0" r="1.15" fill="#fff" stroke="#138e8e" stroke-width="1.2"/>
<polyline points="937.8,292.5 961.1,292.5 984.5,234.0 1007.9,234.0 1031.2,234.0 1054.6,233.6 1078.0,390.0" fill="none" stroke="#fcc400" stroke-width="1.0" stroke-linejoin="round"/>
<circle cx="937.8" cy="292.5" r="1.15" fill="#fff" stroke="#fcc400" stroke-width="1.2"/>
<circle cx="961.1" cy="292.5" r="1.15" fill="#fff" stroke="#fcc400" stroke-width="1.2"/>
<circle cx="984.5" cy="234.0" r="1.15" fill="#fff" stroke="#fcc400" stroke-width="1.2"/>
<circle cx="1007.9" cy="234.0" r="1.15" fill="#fff" stroke="#fcc400" stroke-width="1.2"/>
<circle cx="1031.2" cy="234.0" r="1.15" fill="#fff" stroke="#fcc400" stroke-width="1.2"/>
<circle cx="1054.6" cy="233.6" r="1.15" fill="#fff" stroke="#fcc400" stroke-width="1.2"/>
<circle cx="1078.0" cy="390.0" r="1.15" fill="#fff" stroke="#fcc400" stroke-width="1.2"/>
<polyline points="1218.2,310.1 1241.6,310.1" fill="none" stroke="#fcc400" stroke-width="1.0" stroke-linejoin="round"/>
<circle cx="1218.2" cy="310.1" r="1.15" fill="#fff" stroke="#fcc400" stroke-width="1.2"/>
<circle cx="1241.6" cy="310.1" r="1.15" fill="#fff" stroke="#fcc400" stroke-width="1.2"/>
<polyline points="937.8,390.0 961.1,268.6 984.5,390.0" fill="none" stroke="#e27300" stroke-width="1.0" stroke-linejoin="round"/>
<circle cx="937.8" cy="390.0" r="1.15" fill="#fff" stroke="#e27300" stroke-width="1.2"/>
<circle cx="961.1" cy="268.6" r="1.15" fill="#fff" stroke="#e27300" stroke-width="1.2"/>
<circle cx="984.5" cy="390.0" r="1.15" fill="#fff" stroke="#e27300" stroke-width="1.2"/>
<polyline points="1031.2,390.0 1054.6,321.3 1078.0,390.0" fill="none" stroke="#e27300" stroke-width="1.0" stroke-linejoin="round"/>
<circle cx="1031.2" cy="390.0" r="1.15" fill="#fff" stroke="#e27300" stroke-width="1.2"/>
<circle cx="1054.6" cy="321.3" r="1.15" fill="#fff" stroke="#e27300" stroke-width="1.2"/>
<circle cx="1078.0" cy="390.0" r="1.15" fill="#fff" stroke="#e27300" stroke-width="1.2"/>
<polyline points="984.5,290.1 1007.9,245.4 1031.2,245.4 1054.6,245.4 1078.0,390.0 1101.4,291.4" fill="none" stroke="#c45100" stroke-width="1.0" stroke-linejoin="round"/>
<circle cx="984.5" cy="290.1" r="1.15" fill="#fff" stroke="#c45100" stroke-width="1.2"/>
<circle cx="1007.9" cy="245.4" r="1.15" fill="#fff" stroke="#c45100" stroke-width="1.2"/>
<circle cx="1031.2" cy="245.4" r="1.15" fill="#fff" stroke="#c45100" stroke-width="1.2"/>
<circle cx="1054.6" cy="245.4" r="1.15" fill="#fff" stroke="#c45100" stroke-width="1.2"/>
<circle cx="1078.0" cy="390.0" r="1.15" fill="#fff" stroke="#c45100" stroke-width="1.2"/>
<circle cx="1101.4" cy="291.4" r="1.15" fill="#fff" stroke="#c45100" stroke-width="1.2"/>
<polyline points="1171.5,326.1 1194.9,326.1 1218.2,326.1 1241.6,326.1" fill="none" stroke="#c45100" stroke-width="1.0" stroke-linejoin="round"/>
<circle cx="1171.5" cy="326.1" r="1.15" fill="#fff" stroke="#c45100" stroke-width="1.2"/>
<circle cx="1194.9" cy="326.1" r="1.15" fill="#fff" stroke="#c45100" stroke-width="1.2"/>
<circle cx="1218.2" cy="326.1" r="1.15" fill="#fff" stroke="#c45100" stroke-width="1.2"/>
<circle cx="1241.6" cy="326.1" r="1.15" fill="#fff" stroke="#c45100" stroke-width="1.2"/>
<polyline points="1031.2,390.0 1054.6,303.7 1078.0,390.0 1101.4,267.0" fill="none" stroke="#fb9e00" stroke-width="1.0" stroke-linejoin="round"/>
<circle cx="1031.2" cy="390.0" r="1.15" fill="#fff" stroke="#fb9e00" stroke-width="1.2"/>
<circle cx="1054.6" cy="303.7" r="1.15" fill="#fff" stroke="#fb9e00" stroke-width="1.2"/>
<circle cx="1078.0" cy="390.0" r="1.15" fill="#fff" stroke="#fb9e00" stroke-width="1.2"/>
<circle cx="1101.4" cy="267.0" r="1.15" fill="#fff" stroke="#fb9e00" stroke-width="1.2"/>
<polyline points="1218.2,390.0 1241.6,390.0" fill="none" stroke="#fb9e00" stroke-width="1.0" stroke-linejoin="round"/>
<circle cx="1218.2" cy="390.0" r="1.15" fill="#fff" stroke="#fb9e00" stroke-width="1.2"/>
<circle cx="1241.6" cy="390.0" r="1.15" fill="#fff" stroke="#fb9e00" stroke-width="1.2"/>
<polyline points="984.5,279.7 1007.9,279.7 1031.2,286.1 1054.6,286.1" fill="none" stroke="#0062b1" stroke-width="1.0" stroke-linejoin="round"/>
<circle cx="984.5" cy="279.7" r="1.15" fill="#fff" stroke="#0062b1" stroke-width="1.2"/>
<circle cx="1007.9" cy="279.7" r="1.15" fill="#fff" stroke="#0062b1" stroke-width="1.2"/>
<circle cx="1031.2" cy="286.1" r="1.15" fill="#fff" stroke="#0062b1" stroke-width="1.2"/>
<circle cx="1054.6" cy="286.1" r="1.15" fill="#fff" stroke="#0062b1" stroke-width="1.2"/>
<polyline points="984.5,342.1 1007.9,305.3 1031.2,390.0" fill="none" stroke="#7b64ff" stroke-width="1.0" stroke-linejoin="round"/>
<circle cx="984.5" cy="342.1" r="1.15" fill="#fff" stroke="#7b64ff" stroke-width="1.2"/>
<circle cx="1007.9" cy="305.3" r="1.15" fill="#fff" stroke="#7b64ff" stroke-width="1.2"/>
<circle cx="1031.2" cy="390.0" r="1.15" fill="#fff" stroke="#7b64ff" stroke-width="1.2"/>
<polyline points="1007.9,272.2 1031.2,274.0 1054.6,390.0" fill="none" stroke="#194d33" stroke-width="1.0" stroke-linejoin="round"/>
<circle cx="1007.9" cy="272.2" r="1.15" fill="#fff" stroke="#194d33" stroke-width="1.2"/>
<circle cx="1031.2" cy="274.0" r="1.15" fill="#fff" stroke="#194d33" stroke-width="1.2"/>
<circle cx="1054.6" cy="390.0" r="1.15" fill="#fff" stroke="#194d33" stroke-width="1.2"/>
<polyline points="1078.0,384.2 1101.4,384.2 1124.8,384.2" fill="none" stroke="#194d33" stroke-width="1.0" stroke-linejoin="round"/>
<circle cx="1078.0" cy="384.2" r="1.15" fill="#fff" stroke="#194d33" stroke-width="1.2"/>
<circle cx="1101.4" cy="384.2" r="1.15" fill="#fff" stroke="#194d33" stroke-width="1.2"/>
<circle cx="1124.8" cy="384.2" r="1.15" fill="#fff" stroke="#194d33" stroke-width="1.2"/>
<polyline points="1171.5,310.1 1194.9,310.1 1218.2,310.1" fill="none" stroke="#194d33" stroke-width="1.0" stroke-linejoin="round"/>
<circle cx="1171.5" cy="310.1" r="1.15" fill="#fff" stroke="#194d33" stroke-width="1.2"/>
<circle cx="1194.9" cy="310.1" r="1.15" fill="#fff" stroke="#194d33" stroke-width="1.2"/>
<circle cx="1218.2" cy="310.1" r="1.15" fill="#fff" stroke="#194d33" stroke-width="1.2"/>
<polyline points="704.0,390.0 727.4,386.0 750.8,386.0 774.1,390.0" fill="none" stroke="#808900" stroke-width="1.0" stroke-linejoin="round"/>
<circle cx="704.0" cy="390.0" r="1.15" fill="#fff" stroke="#808900" stroke-width="1.2"/>
<circle cx="727.4" cy="386.0" r="1.15" fill="#fff" stroke="#808900" stroke-width="1.2"/>
<circle cx="750.8" cy="386.0" r="1.15" fill="#fff" stroke="#808900" stroke-width="1.2"/>
<circle cx="774.1" cy="390.0" r="1.15" fill="#fff" stroke="#808900" stroke-width="1.2"/>
<polyline points="797.5,384.6 820.9,384.6 844.2,390.0" fill="none" stroke="#808900" stroke-width="1.0" stroke-linejoin="round"/>
<circle cx="797.5" cy="384.6" r="1.15" fill="#fff" stroke="#808900" stroke-width="1.2"/>
<circle cx="820.9" cy="384.6" r="1.15" fill="#fff" stroke="#808900" stroke-width="1.2"/>
<circle cx="844.2" cy="390.0" r="1.15" fill="#fff" stroke="#808900" stroke-width="1.2"/>
<polyline points="891.0,384.6 914.4,390.0" fill="none" stroke="#808900" stroke-width="1.0" stroke-linejoin="round"/>
<circle cx="891.0" cy="384.6" r="1.15" fill="#fff" stroke="#808900" stroke-width="1.2"/>
<circle cx="914.4" cy="390.0" r="1.15" fill="#fff" stroke="#808900" stroke-width="1.2"/>
<polyline points="984.5,390.0 1007.9,270.5 1031.2,268.6 1054.6,386.8 1078.0,384.2 1101.4,384.2 1124.8,390.0" fill="none" stroke="#808900" stroke-width="1.0" stroke-linejoin="round"/>
<circle cx="984.5" cy="390.0" r="1.15" fill="#fff" stroke="#808900" stroke-width="1.2"/>
<circle cx="1007.9" cy="270.5" r="1.15" fill="#fff" stroke="#808900" stroke-width="1.2"/>
<circle cx="1031.2" cy="268.6" r="1.15" fill="#fff" stroke="#808900" stroke-width="1.2"/>
<circle cx="1054.6" cy="386.8" r="1.15" fill="#fff" stroke="#808900" stroke-width="1.2"/>
<circle cx="1078.0" cy="384.2" r="1.15" fill="#fff" stroke="#808900" stroke-width="1.2"/>
<circle cx="1101.4" cy="384.2" r="1.15" fill="#fff" stroke="#808900" stroke-width="1.2"/>
<circle cx="1124.8" cy="390.0" r="1.15" fill="#fff" stroke="#808900" stroke-width="1.2"/>
<polyline points="1054.6,268.6 1078.0,271.7 1101.4,271.7 1124.8,390.0" fill="none" stroke="#0c797d" stroke-width="1.0" stroke-linejoin="round"/>
<circle cx="1054.6" cy="268.6" r="1.15" fill="#fff" stroke="#0c797d" stroke-width="1.2"/>
<circle cx="1078.0" cy="271.7" r="1.15" fill="#fff" stroke="#0c797d" stroke-width="1.2"/>
<circle cx="1101.4" cy="271.7" r="1.15" fill="#fff" stroke="#0c797d" stroke-width="1.2"/>
<circle cx="1124.8" cy="390.0" r="1.15" fill="#fff" stroke="#0c797d" stroke-width="1.2"/>
<polyline points="1054.6,334.1 1078.0,290.9 1101.4,290.9 1124.8,390.0" fill="none" stroke="#b3b3b3" stroke-width="1.0" stroke-linejoin="round"/>
<circle cx="1054.6" cy="334.1" r="1.15" fill="#fff" stroke="#b3b3b3" stroke-width="1.2"/>
<circle cx="1078.0" cy="290.9" r="1.15" fill="#fff" stroke="#b3b3b3" stroke-width="1.2"/>
<circle cx="1101.4" cy="290.9" r="1.15" fill="#fff" stroke="#b3b3b3" stroke-width="1.2"/>
<circle cx="1124.8" cy="390.0" r="1.15" fill="#fff" stroke="#b3b3b3" stroke-width="1.2"/>
<circle cx="1171.5" cy="390.0" r="1.15" fill="#fff" stroke="#0062b1" stroke-width="1.2"/>
<circle cx="1265.0" cy="390.0" r="1.15" fill="#fff" stroke="#2d2d3a" stroke-width="1.2"/>
<line x1="50" y1="620.0" x2="803" y2="620.0" stroke="#ebecee" stroke-width="1" stroke-dasharray="4.2 4.2"/>
<line x1="50" y1="604.0" x2="803" y2="604.0" stroke="#ebecee" stroke-width="1" stroke-dasharray="4.2 4.2"/>
<line x1="50" y1="588.0" x2="803" y2="588.0" stroke="#ebecee" stroke-width="1" stroke-dasharray="4.2 4.2"/>
<line x1="50" y1="572.0" x2="803" y2="572.0" stroke="#ebecee" stroke-width="1" stroke-dasharray="4.2 4.2"/>
<line x1="50" y1="556.0" x2="803" y2="556.0" stroke="#ebecee" stroke-width="1" stroke-dasharray="4.2 4.2"/>
<line x1="50" y1="540.0" x2="803" y2="540.0" stroke="#ebecee" stroke-width="1" stroke-dasharray="4.2 4.2"/>
<line x1="50" y1="524.0" x2="803" y2="524.0" stroke="#ebecee" stroke-width="1" stroke-dasharray="4.2 4.2"/>
<line x1="50" y1="508.0" x2="803" y2="508.0" stroke="#ebecee" stroke-width="1" stroke-dasharray="4.2 4.2"/>
<line x1="50" y1="492.0" x2="803" y2="492.0" stroke="#ebecee" stroke-width="1" stroke-dasharray="4.2 4.2"/>
<line x1="49.5" y1="480" x2="49.5" y2="636" stroke="#efeff1" stroke-width="1"/>
<line x1="159.2" y1="480" x2="159.2" y2="636" stroke="#efeff1" stroke-width="1"/>
<line x1="268.9" y1="480" x2="268.9" y2="636" stroke="#efeff1" stroke-width="1"/>
<line x1="378.5" y1="480" x2="378.5" y2="636" stroke="#efeff1" stroke-width="1"/>
<line x1="488.2" y1="480" x2="488.2" y2="636" stroke="#efeff1" stroke-width="1"/>
<line x1="597.9" y1="480" x2="597.9" y2="636" stroke="#efeff1" stroke-width="1"/>
<line x1="707.6" y1="480" x2="707.6" y2="636" stroke="#efeff1" stroke-width="1"/>
<line x1="49.5" y1="636.5" x2="803" y2="636.5" stroke="#efeff1" stroke-width="1"/>
<text x="39.5" y="623.7" text-anchor="end" font-size="10.4" fill="#69707d">1,000</text>
<text x="39.5" y="607.7" text-anchor="end" font-size="10.4" fill="#69707d">2,000</text>
<text x="39.5" y="591.7" text-anchor="end" font-size="10.4" fill="#69707d">3,000</text>
<text x="39.5" y="575.7" text-anchor="end" font-size="10.4" fill="#69707d">4,000</text>
<text x="39.5" y="559.7" text-anchor="end" font-size="10.4" fill="#69707d">5,000</text>
<text x="39.5" y="543.7" text-anchor="end" font-size="10.4" fill="#69707d">6,000</text>
<text x="39.5" y="527.7" text-anchor="end" font-size="10.4" fill="#69707d">7,000</text>
<text x="39.5" y="511.7" text-anchor="end" font-size="10.4" fill="#69707d">8,000</text>
<text x="39.5" y="495.7" text-anchor="end" font-size="10.4" fill="#69707d">9,000</text>
<text x="49.5" y="653.4" text-anchor="middle" font-size="10.5" fill="#69707d">2022-09-13 12:00</text>
<text x="159.2" y="653.4" text-anchor="middle" font-size="10.5" fill="#69707d">2022-09-14 12:00</text>
<text x="268.9" y="653.4" text-anchor="middle" font-size="10.5" fill="#69707d">2022-09-15 12:00</text>
<text x="378.5" y="653.4" text-anchor="middle" font-size="10.5" fill="#69707d">2022-09-16 12:00</text>
<text x="488.2" y="653.4" text-anchor="middle" font-size="10.5" fill="#69707d">2022-09-17 12:00</text>
<text x="597.9" y="653.4" text-anchor="middle" font-size="10.5" fill="#69707d">2022-09-18 12:00</text>
<text x="707.6" y="653.4" text-anchor="middle" font-size="10.5" fill="#69707d">2022-09-19 12:00</text>
<text x="426.3" y="676" text-anchor="middle" font-size="12.3" font-weight="bold" fill="#343741">per 3 hours</text>
<polyline points="49.5,636.0 63.2,636.0" fill="none" stroke="#bc52bc" stroke-width="1.3" stroke-linejoin="round"/>
<circle cx="49.5" cy="636.0" r="1.15" fill="#fff" stroke="#bc52bc" stroke-width="1.2"/>
<circle cx="63.2" cy="636.0" r="1.15" fill="#fff" stroke="#bc52bc" stroke-width="1.2"/>
<polyline points="63.2,636.0 76.9,636.0 90.6,636.0 104.3,636.0" fill="none" stroke="#808080" stroke-width="1.3" stroke-linejoin="round"/>
<circle cx="63.2" cy="636.0" r="1.15" fill="#fff" stroke="#808080" stroke-width="1.2"/>
<circle cx="76.9" cy="636.0" r="1.15" fill="#fff" stroke="#808080" stroke-width="1.2"/>
<circle cx="90.6" cy="636.0" r="1.15" fill="#fff" stroke="#808080" stroke-width="1.2"/>
<circle cx="104.3" cy="636.0" r="1.15" fill="#fff" stroke="#808080" stroke-width="1.2"/>
<polyline points="104.3,636.0 118.1,636.0" fill="none" stroke="#333333" stroke-width="1.3" stroke-linejoin="round"/>
<circle cx="104.3" cy="636.0" r="1.15" fill="#fff" stroke="#333333" stroke-width="1.2"/>
<circle cx="118.1" cy="636.0" r="1.15" fill="#fff" stroke="#333333" stroke-width="1.2"/>
<polyline points="118.1,636.0 131.8,636.0" fill="none" stroke="#b0bc00" stroke-width="1.3" stroke-linejoin="round"/>
<circle cx="118.1" cy="636.0" r="1.15" fill="#fff" stroke="#b0bc00" stroke-width="1.2"/>
<circle cx="131.8" cy="636.0" r="1.15" fill="#fff" stroke="#b0bc00" stroke-width="1.2"/>
<polyline points="118.1,636.0 131.8,636.0" fill="none" stroke="#9f0500" stroke-width="1.3" stroke-linejoin="round"/>
<circle cx="118.1" cy="636.0" r="1.15" fill="#fff" stroke="#9f0500" stroke-width="1.2"/>
<circle cx="131.8" cy="636.0" r="1.15" fill="#fff" stroke="#9f0500" stroke-width="1.2"/>
<polyline points="131.8,636.0 145.5,636.0" fill="none" stroke="#009ce0" stroke-width="1.3" stroke-linejoin="round"/>
<circle cx="131.8" cy="636.0" r="1.15" fill="#fff" stroke="#009ce0" stroke-width="1.2"/>
<circle cx="145.5" cy="636.0" r="1.15" fill="#fff" stroke="#009ce0" stroke-width="1.2"/>
<polyline points="131.8,636.0 145.5,636.0" fill="none" stroke="#fb9e00" stroke-width="1.3" stroke-linejoin="round"/>
<circle cx="131.8" cy="636.0" r="1.15" fill="#fff" stroke="#fb9e00" stroke-width="1.2"/>
<circle cx="145.5" cy="636.0" r="1.15" fill="#fff" stroke="#fb9e00" stroke-width="1.2"/>
<polyline points="145.5,636.0 159.2,636.0" fill="none" stroke="#16a5a5" stroke-width="1.3" stroke-linejoin="round"/>
<circle cx="145.5" cy="636.0" r="1.15" fill="#fff" stroke="#16a5a5" stroke-width="1.2"/>
<circle cx="159.2" cy="636.0" r="1.15" fill="#fff" stroke="#16a5a5" stroke-width="1.2"/>
<polyline points="159.2,636.0 172.9,636.0" fill="none" stroke="#fa28ff" stroke-width="1.3" stroke-linejoin="round"/>
<circle cx="159.2" cy="636.0" r="1.15" fill="#fff" stroke="#fa28ff" stroke-width="1.2"/>
<circle cx="172.9" cy="636.0" r="1.15" fill="#fff" stroke="#fa28ff" stroke-width="1.2"/>
<polyline points="172.9,636.0 186.6,636.0 200.3,636.0 214.0,636.0" fill="none" stroke="#808080" stroke-width="1.3" stroke-linejoin="round"/>
<circle cx="172.9" cy="636.0" r="1.15" fill="#fff" stroke="#808080" stroke-width="1.2"/>
<circle cx="186.6" cy="636.0" r="1.15" fill="#fff" stroke="#808080" stroke-width="1.2"/>
<circle cx="200.3" cy="636.0" r="1.15" fill="#fff" stroke="#808080" stroke-width="1.2"/>
<circle cx="214.0" cy="636.0" r="1.15" fill="#fff" stroke="#808080" stroke-width="1.2"/>
<polyline points="214.0,636.0 227.7,636.0" fill="none" stroke="#333333" stroke-width="1.3" stroke-linejoin="round"/>
<circle cx="214.0" cy="636.0" r="1.15" fill="#fff" stroke="#333333" stroke-width="1.2"/>
<circle cx="227.7" cy="636.0" r="1.15" fill="#fff" stroke="#333333" stroke-width="1.2"/>
<polyline points="227.7,636.0 241.4,636.0" fill="none" stroke="#b0bc00" stroke-width="1.3" stroke-linejoin="round"/>
<circle cx="227.7" cy="636.0" r="1.15" fill="#fff" stroke="#b0bc00" stroke-width="1.2"/>
<circle cx="241.4" cy="636.0" r="1.15" fill="#fff" stroke="#b0bc00" stroke-width="1.2"/>
<polyline points="227.7,636.0 241.4,636.0" fill="none" stroke="#9f0500" stroke-width="1.3" stroke-linejoin="round"/>
<circle cx="227.7" cy="636.0" r="1.15" fill="#fff" stroke="#9f0500" stroke-width="1.2"/>
<circle cx="241.4" cy="636.0" r="1.15" fill="#fff" stroke="#9f0500" stroke-width="1.2"/>
<polyline points="241.4,636.0 255.2,636.0" fill="none" stroke="#68bc00" stroke-width="1.3" stroke-linejoin="round"/>
<circle cx="241.4" cy="636.0" r="1.15" fill="#fff" stroke="#68bc00" stroke-width="1.2"/>
<circle cx="255.2" cy="636.0" r="1.15" fill="#fff" stroke="#68bc00" stroke-width="1.2"/>
<polyline points="241.4,636.0 255.2,636.0" fill="none" stroke="#fb9e00" stroke-width="1.3" stroke-linejoin="round"/>
<circle cx="241.4" cy="636.0" r="1.15" fill="#fff" stroke="#fb9e00" stroke-width="1.2"/>
<circle cx="255.2" cy="636.0" r="1.15" fill="#fff" stroke="#fb9e00" stroke-width="1.2"/>
<polyline points="255.2,636.0 268.9,636.0" fill="none" stroke="#16a5a5" stroke-width="1.3" stroke-linejoin="round"/>
<circle cx="255.2" cy="636.0" r="1.15" fill="#fff" stroke="#16a5a5" stroke-width="1.2"/>
<circle cx="268.9" cy="636.0" r="1.15" fill="#fff" stroke="#16a5a5" stroke-width="1.2"/>
<polyline points="268.9,636.0 282.6,636.0" fill="none" stroke="#fa28ff" stroke-width="1.3" stroke-linejoin="round"/>
<circle cx="268.9" cy="636.0" r="1.15" fill="#fff" stroke="#fa28ff" stroke-width="1.2"/>
<circle cx="282.6" cy="636.0" r="1.15" fill="#fff" stroke="#fa28ff" stroke-width="1.2"/>
<polyline points="282.6,636.0 296.3,636.0 310.0,636.0" fill="none" stroke="#777777" stroke-width="1.3" stroke-linejoin="round"/>
<circle cx="282.6" cy="636.0" r="1.15" fill="#fff" stroke="#777777" stroke-width="1.2"/>
<circle cx="296.3" cy="636.0" r="1.15" fill="#fff" stroke="#777777" stroke-width="1.2"/>
<circle cx="310.0" cy="636.0" r="1.15" fill="#fff" stroke="#777777" stroke-width="1.2"/>
<polyline points="310.0,636.0 323.7,636.0" fill="none" stroke="#7b64ff" stroke-width="1.3" stroke-linejoin="round"/>
<circle cx="310.0" cy="636.0" r="1.15" fill="#fff" stroke="#7b64ff" stroke-width="1.2"/>
<circle cx="323.7" cy="636.0" r="1.15" fill="#fff" stroke="#7b64ff" stroke-width="1.2"/>
<polyline points="323.7,636.0 337.4,636.0" fill="none" stroke="#333333" stroke-width="1.3" stroke-linejoin="round"/>
<circle cx="323.7" cy="636.0" r="1.15" fill="#fff" stroke="#333333" stroke-width="1.2"/>
<circle cx="337.4" cy="636.0" r="1.15" fill="#fff" stroke="#333333" stroke-width="1.2"/>
<polyline points="337.4,636.0 351.1,636.0" fill="none" stroke="#9f0500" stroke-width="1.3" stroke-linejoin="round"/>
<circle cx="337.4" cy="636.0" r="1.15" fill="#fff" stroke="#9f0500" stroke-width="1.2"/>
<circle cx="351.1" cy="636.0" r="1.15" fill="#fff" stroke="#9f0500" stroke-width="1.2"/>
<polyline points="351.1,636.0 364.8,636.0" fill="none" stroke="#b0bc00" stroke-width="1.3" stroke-linejoin="round"/>
<circle cx="351.1" cy="636.0" r="1.15" fill="#fff" stroke="#b0bc00" stroke-width="1.2"/>
<circle cx="364.8" cy="636.0" r="1.15" fill="#fff" stroke="#b0bc00" stroke-width="1.2"/>
<polyline points="351.1,636.0 364.8,636.0" fill="none" stroke="#fb9e00" stroke-width="1.3" stroke-linejoin="round"/>
<circle cx="351.1" cy="636.0" r="1.15" fill="#fff" stroke="#fb9e00" stroke-width="1.2"/>
<circle cx="364.8" cy="636.0" r="1.15" fill="#fff" stroke="#fb9e00" stroke-width="1.2"/>
<polyline points="364.8,636.0 378.5,636.0" fill="none" stroke="#16a5a5" stroke-width="1.3" stroke-linejoin="round"/>
<circle cx="364.8" cy="636.0" r="1.15" fill="#fff" stroke="#16a5a5" stroke-width="1.2"/>
<circle cx="378.5" cy="636.0" r="1.15" fill="#fff" stroke="#16a5a5" stroke-width="1.2"/>
<polyline points="378.5,636.0 392.2,636.0" fill="none" stroke="#fa28ff" stroke-width="1.3" stroke-linejoin="round"/>
<circle cx="378.5" cy="636.0" r="1.15" fill="#fff" stroke="#fa28ff" stroke-width="1.2"/>
<circle cx="392.2" cy="636.0" r="1.15" fill="#fff" stroke="#fa28ff" stroke-width="1.2"/>
<polyline points="392.2,636.0 406.0,636.0 419.7,636.0" fill="none" stroke="#777777" stroke-width="1.3" stroke-linejoin="round"/>
<circle cx="392.2" cy="636.0" r="1.15" fill="#fff" stroke="#777777" stroke-width="1.2"/>
<circle cx="406.0" cy="636.0" r="1.15" fill="#fff" stroke="#777777" stroke-width="1.2"/>
<circle cx="419.7" cy="636.0" r="1.15" fill="#fff" stroke="#777777" stroke-width="1.2"/>
<polyline points="419.7,636.0 433.4,636.0" fill="none" stroke="#7b64ff" stroke-width="1.3" stroke-linejoin="round"/>
<circle cx="419.7" cy="636.0" r="1.15" fill="#fff" stroke="#7b64ff" stroke-width="1.2"/>
<circle cx="433.4" cy="636.0" r="1.15" fill="#fff" stroke="#7b64ff" stroke-width="1.2"/>
<polyline points="433.4,636.0 447.1,636.0" fill="none" stroke="#333333" stroke-width="1.3" stroke-linejoin="round"/>
<circle cx="433.4" cy="636.0" r="1.15" fill="#fff" stroke="#333333" stroke-width="1.2"/>
<circle cx="447.1" cy="636.0" r="1.15" fill="#fff" stroke="#333333" stroke-width="1.2"/>
<polyline points="447.1,636.0 460.8,636.0" fill="none" stroke="#fb9e00" stroke-width="1.3" stroke-linejoin="round"/>
<circle cx="447.1" cy="636.0" r="1.15" fill="#fff" stroke="#fb9e00" stroke-width="1.2"/>
<circle cx="460.8" cy="636.0" r="1.15" fill="#fff" stroke="#fb9e00" stroke-width="1.2"/>
<polyline points="460.8,636.0 474.5,636.0" fill="none" stroke="#b0bc00" stroke-width="1.3" stroke-linejoin="round"/>
<circle cx="460.8" cy="636.0" r="1.15" fill="#fff" stroke="#b0bc00" stroke-width="1.2"/>
<circle cx="474.5" cy="636.0" r="1.15" fill="#fff" stroke="#b0bc00" stroke-width="1.2"/>
<polyline points="474.5,636.0 488.2,636.0" fill="none" stroke="#16a5a5" stroke-width="1.3" stroke-linejoin="round"/>
<circle cx="474.5" cy="636.0" r="1.15" fill="#fff" stroke="#16a5a5" stroke-width="1.2"/>
<circle cx="488.2" cy="636.0" r="1.15" fill="#fff" stroke="#16a5a5" stroke-width="1.2"/>
<polyline points="488.2,636.0 501.9,636.0" fill="none" stroke="#fa28ff" stroke-width="1.3" stroke-linejoin="round"/>
<circle cx="488.2" cy="636.0" r="1.15" fill="#fff" stroke="#fa28ff" stroke-width="1.2"/>
<circle cx="501.9" cy="636.0" r="1.15" fill="#fff" stroke="#fa28ff" stroke-width="1.2"/>
<polyline points="501.9,636.0 515.6,636.0 529.4,636.0 543.1,636.0" fill="none" stroke="#808080" stroke-width="1.3" stroke-linejoin="round"/>
<circle cx="501.9" cy="636.0" r="1.15" fill="#fff" stroke="#808080" stroke-width="1.2"/>
<circle cx="515.6" cy="636.0" r="1.15" fill="#fff" stroke="#808080" stroke-width="1.2"/>
<circle cx="529.4" cy="636.0" r="1.15" fill="#fff" stroke="#808080" stroke-width="1.2"/>
<circle cx="543.1" cy="636.0" r="1.15" fill="#fff" stroke="#808080" stroke-width="1.2"/>
<polyline points="529.4,636.0 543.1,636.0" fill="none" stroke="#7b64ff" stroke-width="1.3" stroke-linejoin="round"/>
<circle cx="529.4" cy="636.0" r="1.15" fill="#fff" stroke="#7b64ff" stroke-width="1.2"/>
<circle cx="543.1" cy="636.0" r="1.15" fill="#fff" stroke="#7b64ff" stroke-width="1.2"/>
<polyline points="543.1,636.0 556.8,636.0 570.5,636.0" fill="none" stroke="#808080" stroke-width="1.3" stroke-linejoin="round"/>
<circle cx="543.1" cy="636.0" r="1.15" fill="#fff" stroke="#808080" stroke-width="1.2"/>
<circle cx="556.8" cy="636.0" r="1.15" fill="#fff" stroke="#808080" stroke-width="1.2"/>
<circle cx="570.5" cy="636.0" r="1.15" fill="#fff" stroke="#808080" stroke-width="1.2"/>
<polyline points="570.5,636.0 584.2,636.0" fill="none" stroke="#009ce0" stroke-width="1.3" stroke-linejoin="round"/>
<circle cx="570.5" cy="636.0" r="1.15" fill="#fff" stroke="#009ce0" stroke-width="1.2"/>
<circle cx="584.2" cy="636.0" r="1.15" fill="#fff" stroke="#009ce0" stroke-width="1.2"/>
<polyline points="584.2,636.0 597.9,636.0" fill="none" stroke="#fa28ff" stroke-width="1.3" stroke-linejoin="round"/>
<circle cx="584.2" cy="636.0" r="1.15" fill="#fff" stroke="#fa28ff" stroke-width="1.2"/>
<circle cx="597.9" cy="636.0" r="1.15" fill="#fff" stroke="#fa28ff" stroke-width="1.2"/>
<polyline points="597.9,636.0 611.6,636.0 625.3,636.0 639.0,636.0" fill="none" stroke="#808080" stroke-width="1.3" stroke-linejoin="round"/>
<circle cx="597.9" cy="636.0" r="1.15" fill="#fff" stroke="#808080" stroke-width="1.2"/>
<circle cx="611.6" cy="636.0" r="1.15" fill="#fff" stroke="#808080" stroke-width="1.2"/>
<circle cx="625.3" cy="636.0" r="1.15" fill="#fff" stroke="#808080" stroke-width="1.2"/>
<circle cx="639.0" cy="636.0" r="1.15" fill="#fff" stroke="#808080" stroke-width="1.2"/>
<polyline points="639.0,636.0 652.7,636.0 666.5,636.0 680.2,636.0" fill="none" stroke="#0c797d" stroke-width="1.3" stroke-linejoin="round"/>
<circle cx="639.0" cy="636.0" r="1.15" fill="#fff" stroke="#0c797d" stroke-width="1.2"/>
<circle cx="652.7" cy="636.0" r="1.15" fill="#fff" stroke="#0c797d" stroke-width="1.2"/>
<circle cx="666.5" cy="636.0" r="1.15" fill="#fff" stroke="#0c797d" stroke-width="1.2"/>
<circle cx="680.2" cy="636.0" r="1.15" fill="#fff" stroke="#0c797d" stroke-width="1.2"/>
<polyline points="652.7,636.0 666.5,636.0" fill="none" stroke="#9f0500" stroke-width="1.3" stroke-linejoin="round"/>
<circle cx="652.7" cy="636.0" r="1.15" fill="#fff" stroke="#9f0500" stroke-width="1.2"/>
<circle cx="666.5" cy="636.0" r="1.15" fill="#fff" stroke="#9f0500" stroke-width="1.2"/>
<polyline points="707.6,636.0 721.3,636.0" fill="none" stroke="#0062b1" stroke-width="1.3" stroke-linejoin="round"/>
<circle cx="707.6" cy="636.0" r="1.15" fill="#fff" stroke="#0062b1" stroke-width="1.2"/>
<circle cx="721.3" cy="636.0" r="1.15" fill="#fff" stroke="#0062b1" stroke-width="1.2"/>
<polyline points="707.6,636.0 721.3,636.0 735.0,636.0" fill="none" stroke="#194d33" stroke-width="1.3" stroke-linejoin="round"/>
<circle cx="707.6" cy="636.0" r="1.15" fill="#fff" stroke="#194d33" stroke-width="1.2"/>
<circle cx="721.3" cy="636.0" r="1.15" fill="#fff" stroke="#194d33" stroke-width="1.2"/>
<circle cx="735.0" cy="636.0" r="1.15" fill="#fff" stroke="#194d33" stroke-width="1.2"/>
<polyline points="735.0,636.0 748.7,636.0" fill="none" stroke="#fcc400" stroke-width="1.3" stroke-linejoin="round"/>
<circle cx="735.0" cy="636.0" r="1.15" fill="#fff" stroke="#fcc400" stroke-width="1.2"/>
<circle cx="748.7" cy="636.0" r="1.15" fill="#fff" stroke="#fcc400" stroke-width="1.2"/>
<polyline points="49.5,635.0 63.2,635.0 76.9,635.0 90.6,634.4" fill="none" stroke="#7b64ff" stroke-width="1.3" stroke-linejoin="round"/>
<circle cx="49.5" cy="635.0" r="1.15" fill="#fff" stroke="#7b64ff" stroke-width="1.2"/>
<circle cx="63.2" cy="635.0" r="1.15" fill="#fff" stroke="#7b64ff" stroke-width="1.2"/>
<circle cx="76.9" cy="635.0" r="1.15" fill="#fff" stroke="#7b64ff" stroke-width="1.2"/>
<circle cx="90.6" cy="634.4" r="1.15" fill="#fff" stroke="#7b64ff" stroke-width="1.2"/>
<polyline points="159.2,634.1 172.9,634.1 186.6,634.4 200.3,634.4" fill="none" stroke="#7b64ff" stroke-width="1.3" stroke-linejoin="round"/>
<circle cx="159.2" cy="634.1" r="1.15" fill="#fff" stroke="#7b64ff" stroke-width="1.2"/>
<circle cx="172.9" cy="634.1" r="1.15" fill="#fff" stroke="#7b64ff" stroke-width="1.2"/>
<circle cx="186.6" cy="634.4" r="1.15" fill="#fff" stroke="#7b64ff" stroke-width="1.2"/>
<circle cx="200.3" cy="634.4" r="1.15" fill="#fff" stroke="#7b64ff" stroke-width="1.2"/>
<polyline points="268.9,634.1 282.6,634.1 296.3,634.4 310.0,634.4" fill="none" stroke="#7b64ff" stroke-width="1.3" stroke-linejoin="round"/>
<circle cx="268.9" cy="634.1" r="1.15" fill="#fff" stroke="#7b64ff" stroke-width="1.2"/>
<circle cx="282.6" cy="634.1" r="1.15" fill="#fff" stroke="#7b64ff" stroke-width="1.2"/>
<circle cx="296.3" cy="634.4" r="1.15" fill="#fff" stroke="#7b64ff" stroke-width="1.2"/>
<circle cx="310.0" cy="634.4" r="1.15" fill="#fff" stroke="#7b64ff" stroke-width="1.2"/>
<polyline points="378.5,634.1 392.2,634.1 406.0,634.4 419.7,634.4" fill="none" stroke="#7b64ff" stroke-width="1.3" stroke-linejoin="round"/>
<circle cx="378.5" cy="634.1" r="1.15" fill="#fff" stroke="#7b64ff" stroke-width="1.2"/>
<circle cx="392.2" cy="634.1" r="1.15" fill="#fff" stroke="#7b64ff" stroke-width="1.2"/>
<circle cx="406.0" cy="634.4" r="1.15" fill="#fff" stroke="#7b64ff" stroke-width="1.2"/>
<circle cx="419.7" cy="634.4" r="1.15" fill="#fff" stroke="#7b64ff" stroke-width="1.2"/>
<polyline points="488.2,634.1 501.9,634.1 515.6,634.4 529.4,634.4" fill="none" stroke="#7b64ff" stroke-width="1.3" stroke-linejoin="round"/>
<circle cx="488.2" cy="634.1" r="1.15" fill="#fff" stroke="#7b64ff" stroke-width="1.2"/>
<circle cx="501.9" cy="634.1" r="1.15" fill="#fff" stroke="#7b64ff" stroke-width="1.2"/>
<circle cx="515.6" cy="634.4" r="1.15" fill="#fff" stroke="#7b64ff" stroke-width="1.2"/>
<circle cx="529.4" cy="634.4" r="1.15" fill="#fff" stroke="#7b64ff" stroke-width="1.2"/>
<polyline points="597.9,634.1 611.6,634.1 625.3,635.0 639.0,636.0" fill="none" stroke="#7b64ff" stroke-width="1.3" stroke-linejoin="round"/>
<circle cx="597.9" cy="634.1" r="1.15" fill="#fff" stroke="#7b64ff" stroke-width="1.2"/>
<circle cx="611.6" cy="634.1" r="1.15" fill="#fff" stroke="#7b64ff" stroke-width="1.2"/>
<circle cx="625.3" cy="635.0" r="1.15" fill="#fff" stroke="#7b64ff" stroke-width="1.2"/>
<circle cx="639.0" cy="636.0" r="1.15" fill="#fff" stroke="#7b64ff" stroke-width="1.2"/>
<polyline points="145.5,636.0 159.2,634.7 172.9,634.7 186.6,636.0" fill="none" stroke="#16a5a5" stroke-width="1.3" stroke-linejoin="round"/>
<circle cx="145.5" cy="636.0" r="1.15" fill="#fff" stroke="#16a5a5" stroke-width="1.2"/>
<circle cx="159.2" cy="634.7" r="1.15" fill="#fff" stroke="#16a5a5" stroke-width="1.2"/>
<circle cx="172.9" cy="634.7" r="1.15" fill="#fff" stroke="#16a5a5" stroke-width="1.2"/>
<circle cx="186.6" cy="636.0" r="1.15" fill="#fff" stroke="#16a5a5" stroke-width="1.2"/>
<polyline points="255.2,636.0 268.9,634.7 282.6,634.7 296.3,636.0" fill="none" stroke="#16a5a5" stroke-width="1.3" stroke-linejoin="round"/>
<circle cx="255.2" cy="636.0" r="1.15" fill="#fff" stroke="#16a5a5" stroke-width="1.2"/>
<circle cx="268.9" cy="634.7" r="1.15" fill="#fff" stroke="#16a5a5" stroke-width="1.2"/>
<circle cx="282.6" cy="634.7" r="1.15" fill="#fff" stroke="#16a5a5" stroke-width="1.2"/>
<circle cx="296.3" cy="636.0" r="1.15" fill="#fff" stroke="#16a5a5" stroke-width="1.2"/>
<polyline points="364.8,636.0 378.5,634.7 392.2,634.7 406.0,636.0" fill="none" stroke="#16a5a5" stroke-width="1.3" stroke-linejoin="round"/>
<circle cx="364.8" cy="636.0" r="1.15" fill="#fff" stroke="#16a5a5" stroke-width="1.2"/>
<circle cx="378.5" cy="634.7" r="1.15" fill="#fff" stroke="#16a5a5" stroke-width="1.2"/>
<circle cx="392.2" cy="634.7" r="1.15" fill="#fff" stroke="#16a5a5" stroke-width="1.2"/>
<circle cx="406.0" cy="636.0" r="1.15" fill="#fff" stroke="#16a5a5" stroke-width="1.2"/>
<polyline points="474.5,636.0 488.2,634.7 501.9,634.7 515.6,636.0" fill="none" stroke="#16a5a5" stroke-width="1.3" stroke-linejoin="round"/>
<circle cx="474.5" cy="636.0" r="1.15" fill="#fff" stroke="#16a5a5" stroke-width="1.2"/>
<circle cx="488.2" cy="634.7" r="1.15" fill="#fff" stroke="#16a5a5" stroke-width="1.2"/>
<circle cx="501.9" cy="634.7" r="1.15" fill="#fff" stroke="#16a5a5" stroke-width="1.2"/>
<circle cx="515.6" cy="636.0" r="1.15" fill="#fff" stroke="#16a5a5" stroke-width="1.2"/>
<polyline points="255.2,636.0 268.9,632.8 282.6,632.8 296.3,636.0" fill="none" stroke="#9f0500" stroke-width="1.3" stroke-linejoin="round"/>
<circle cx="255.2" cy="636.0" r="1.15" fill="#fff" stroke="#9f0500" stroke-width="1.2"/>
<circle cx="268.9" cy="632.8" r="1.15" fill="#fff" stroke="#9f0500" stroke-width="1.2"/>
<circle cx="282.6" cy="632.8" r="1.15" fill="#fff" stroke="#9f0500" stroke-width="1.2"/>
<circle cx="296.3" cy="636.0" r="1.15" fill="#fff" stroke="#9f0500" stroke-width="1.2"/>
<polyline points="584.2,636.0 597.9,634.4 611.6,633.6 625.3,635.0 639.0,636.0" fill="none" stroke="#9f0500" stroke-width="1.3" stroke-linejoin="round"/>
<circle cx="584.2" cy="636.0" r="1.15" fill="#fff" stroke="#9f0500" stroke-width="1.2"/>
<circle cx="597.9" cy="634.4" r="1.15" fill="#fff" stroke="#9f0500" stroke-width="1.2"/>
<circle cx="611.6" cy="633.6" r="1.15" fill="#fff" stroke="#9f0500" stroke-width="1.2"/>
<circle cx="625.3" cy="635.0" r="1.15" fill="#fff" stroke="#9f0500" stroke-width="1.2"/>
<circle cx="639.0" cy="636.0" r="1.15" fill="#fff" stroke="#9f0500" stroke-width="1.2"/>
<polyline points="584.2,636.0 597.9,633.6 611.6,631.2 625.3,633.6 639.0,636.0" fill="none" stroke="#e27300" stroke-width="1.3" stroke-linejoin="round"/>
<circle cx="584.2" cy="636.0" r="1.15" fill="#fff" stroke="#e27300" stroke-width="1.2"/>
<circle cx="597.9" cy="633.6" r="1.15" fill="#fff" stroke="#e27300" stroke-width="1.2"/>
<circle cx="611.6" cy="631.2" r="1.15" fill="#fff" stroke="#e27300" stroke-width="1.2"/>
<circle cx="625.3" cy="633.6" r="1.15" fill="#fff" stroke="#e27300" stroke-width="1.2"/>
<circle cx="639.0" cy="636.0" r="1.15" fill="#fff" stroke="#e27300" stroke-width="1.2"/>
<polyline points="597.9,636.0 611.6,634.7 625.3,632.8 639.0,635.4" fill="none" stroke="#fa28ff" stroke-width="1.3" stroke-linejoin="round"/>
<circle cx="597.9" cy="636.0" r="1.15" fill="#fff" stroke="#fa28ff" stroke-width="1.2"/>
<circle cx="611.6" cy="634.7" r="1.15" fill="#fff" stroke="#fa28ff" stroke-width="1.2"/>
<circle cx="625.3" cy="632.8" r="1.15" fill="#fff" stroke="#fa28ff" stroke-width="1.2"/>
<circle cx="639.0" cy="635.4" r="1.15" fill="#fff" stroke="#fa28ff" stroke-width="1.2"/>
<polyline points="584.2,636.0 597.9,628.9 611.6,620.6 625.3,628.9 639.0,636.0" fill="none" stroke="#6b5a78" stroke-width="1.3" stroke-linejoin="round"/>
<circle cx="584.2" cy="636.0" r="1.15" fill="#fff" stroke="#6b5a78" stroke-width="1.2"/>
<circle cx="597.9" cy="628.9" r="1.15" fill="#fff" stroke="#6b5a78" stroke-width="1.2"/>
<circle cx="611.6" cy="620.6" r="1.15" fill="#fff" stroke="#6b5a78" stroke-width="1.2"/>
<circle cx="625.3" cy="628.9" r="1.15" fill="#fff" stroke="#6b5a78" stroke-width="1.2"/>
<circle cx="639.0" cy="636.0" r="1.15" fill="#fff" stroke="#6b5a78" stroke-width="1.2"/>
<polyline points="597.9,636.0 611.6,608.0 625.3,619.4 639.0,636.0" fill="none" stroke="#0c797d" stroke-width="1.3" stroke-linejoin="round"/>
<circle cx="597.9" cy="636.0" r="1.15" fill="#fff" stroke="#0c797d" stroke-width="1.2"/>
<circle cx="611.6" cy="608.0" r="1.15" fill="#fff" stroke="#0c797d" stroke-width="1.2"/>
<circle cx="625.3" cy="619.4" r="1.15" fill="#fff" stroke="#0c797d" stroke-width="1.2"/>
<circle cx="639.0" cy="636.0" r="1.15" fill="#fff" stroke="#0c797d" stroke-width="1.2"/>
<polyline points="49.5,633.4 63.2,633.4 76.9,633.4 90.6,636.0" fill="none" stroke="#2a2133" stroke-width="1.6" stroke-linejoin="round"/>
<circle cx="49.5" cy="633.4" r="1.15" fill="#fff" stroke="#2a2133" stroke-width="1.2"/>
<circle cx="63.2" cy="633.4" r="1.15" fill="#fff" stroke="#2a2133" stroke-width="1.2"/>
<circle cx="76.9" cy="633.4" r="1.15" fill="#fff" stroke="#2a2133" stroke-width="1.2"/>
<circle cx="90.6" cy="636.0" r="1.15" fill="#fff" stroke="#2a2133" stroke-width="1.2"/>
<polyline points="159.2,630.9 172.9,630.9 186.6,633.1 200.3,636.0" fill="none" stroke="#2a2133" stroke-width="1.6" stroke-linejoin="round"/>
<circle cx="159.2" cy="630.9" r="1.15" fill="#fff" stroke="#2a2133" stroke-width="1.2"/>
<circle cx="172.9" cy="630.9" r="1.15" fill="#fff" stroke="#2a2133" stroke-width="1.2"/>
<circle cx="186.6" cy="633.1" r="1.15" fill="#fff" stroke="#2a2133" stroke-width="1.2"/>
<circle cx="200.3" cy="636.0" r="1.15" fill="#fff" stroke="#2a2133" stroke-width="1.2"/>
<polyline points="268.9,630.9 282.6,630.9 296.3,633.1 310.0,636.0" fill="none" stroke="#2a2133" stroke-width="1.6" stroke-linejoin="round"/>
<circle cx="268.9" cy="630.9" r="1.15" fill="#fff" stroke="#2a2133" stroke-width="1.2"/>
<circle cx="282.6" cy="630.9" r="1.15" fill="#fff" stroke="#2a2133" stroke-width="1.2"/>
<circle cx="296.3" cy="633.1" r="1.15" fill="#fff" stroke="#2a2133" stroke-width="1.2"/>
<circle cx="310.0" cy="636.0" r="1.15" fill="#fff" stroke="#2a2133" stroke-width="1.2"/>
<polyline points="378.5,629.1 392.2,626.6 406.0,633.1 419.7,636.0" fill="none" stroke="#2a2133" stroke-width="1.6" stroke-linejoin="round"/>
<circle cx="378.5" cy="629.1" r="1.15" fill="#fff" stroke="#2a2133" stroke-width="1.2"/>
<circle cx="392.2" cy="626.6" r="1.15" fill="#fff" stroke="#2a2133" stroke-width="1.2"/>
<circle cx="406.0" cy="633.1" r="1.15" fill="#fff" stroke="#2a2133" stroke-width="1.2"/>
<circle cx="419.7" cy="636.0" r="1.15" fill="#fff" stroke="#2a2133" stroke-width="1.2"/>
<polyline points="488.2,625.4 501.9,627.0 515.6,633.3 529.4,635.2" fill="none" stroke="#2a2133" stroke-width="1.6" stroke-linejoin="round"/>
<circle cx="488.2" cy="625.4" r="1.15" fill="#fff" stroke="#2a2133" stroke-width="1.2"/>
<circle cx="501.9" cy="627.0" r="1.15" fill="#fff" stroke="#2a2133" stroke-width="1.2"/>
<circle cx="515.6" cy="633.3" r="1.15" fill="#fff" stroke="#2a2133" stroke-width="1.2"/>
<circle cx="529.4" cy="635.2" r="1.15" fill="#fff" stroke="#2a2133" stroke-width="1.2"/>
<polyline points="597.9,479.6 611.6,591.5 625.3,630.0 639.0,621.4 652.7,636.0" fill="none" stroke="#2a2133" stroke-width="1.6" stroke-linejoin="round"/>
<circle cx="597.9" cy="479.6" r="1.15" fill="#fff" stroke="#2a2133" stroke-width="1.2"/>
<circle cx="611.6" cy="591.5" r="1.15" fill="#fff" stroke="#2a2133" stroke-width="1.2"/>
<circle cx="625.3" cy="630.0" r="1.15" fill="#fff" stroke="#2a2133" stroke-width="1.2"/>
<circle cx="639.0" cy="621.4" r="1.15" fill="#fff" stroke="#2a2133" stroke-width="1.2"/>
<circle cx="652.7" cy="636.0" r="1.15" fill="#fff" stroke="#2a2133" stroke-width="1.2"/>
<polyline points="707.6,628.5 721.3,630.6 735.0,636.0" fill="none" stroke="#2a2133" stroke-width="1.6" stroke-linejoin="round"/>
<circle cx="707.6" cy="628.5" r="1.15" fill="#fff" stroke="#2a2133" stroke-width="1.2"/>
<circle cx="721.3" cy="630.6" r="1.15" fill="#fff" stroke="#2a2133" stroke-width="1.2"/>
<circle cx="735.0" cy="636.0" r="1.15" fill="#fff" stroke="#2a2133" stroke-width="1.2"/>
<circle cx="762.4" cy="636.0" r="1.15" fill="#fff" stroke="#2a2133" stroke-width="1.2"/>
<polyline points="611.6,591.5 625.3,630.0" fill="none" stroke="#ab149e" stroke-width="0.8" stroke-linejoin="round"/>
<circle cx="611.6" cy="591.5" r="1.15" fill="#fff" stroke="#ab149e" stroke-width="1.2"/>
<circle cx="625.3" cy="630.0" r="1.15" fill="#fff" stroke="#ab149e" stroke-width="1.2"/>
<path d="M1224.4,576.9 L1224.40,474.30 A102.6,102.6 0 0 1 1306.91,637.88 Z" fill="#00a69b" stroke="#fff" stroke-width="1.5" stroke-linejoin="round"/>
<path d="M1224.4,576.9 L1306.91,637.88 A102.6,102.6 0 0 1 1305.27,640.04 Z" fill="#57c17b" stroke="#fff" stroke-width="1.5" stroke-linejoin="round"/>
<path d="M1224.4,576.9 L1305.27,640.04 A102.6,102.6 0 0 1 1291.03,654.92 Z" fill="#6f87d8" stroke="#fff" stroke-width="1.5" stroke-linejoin="round"/>
<path d="M1224.4,576.9 L1291.03,654.92 A102.6,102.6 0 0 1 1124.00,598.02 Z" fill="#663db8" stroke="#fff" stroke-width="1.5" stroke-linejoin="round"/>
<path d="M1224.4,576.9 L1124.00,598.02 A102.6,102.6 0 0 1 1171.29,489.12 Z" fill="#bc52bc" stroke="#fff" stroke-width="1.5" stroke-linejoin="round"/>
<path d="M1224.4,576.9 L1171.29,489.12 A102.6,102.6 0 0 1 1171.56,488.95 Z" fill="#9e3533" stroke="#fff" stroke-width="1.5" stroke-linejoin="round"/>
<path d="M1224.4,576.9 L1171.56,488.95 A102.6,102.6 0 0 1 1171.84,488.79 Z" fill="#daa05d" stroke="#fff" stroke-width="1.5" stroke-linejoin="round"/>
<path d="M1224.4,576.9 L1171.84,488.79 A102.6,102.6 0 0 1 1172.12,488.62 Z" fill="#bfaf40" stroke="#fff" stroke-width="1.5" stroke-linejoin="round"/>
<path d="M1224.4,576.9 L1172.12,488.62 A102.6,102.6 0 0 1 1224.40,474.30 Z" fill="#4050bf" stroke="#fff" stroke-width="1.5" stroke-linejoin="round"/>
<text x="1254.9" y="516" text-anchor="middle" font-size="16.6" fill="#000">tls</text>
<text x="1262.5" y="532.4" text-anchor="middle" font-size="16.6" font-weight="bold" fill="#000">35.13%</text>
<text x="1166.6" y="560" text-anchor="middle" font-size="11.5" fill="#000">authentication</text>
<text x="1168.9" y="570.8" text-anchor="middle" font-size="11.5" font-weight="bold" fill="#000">19.64%</text>
<text x="1218" y="651.7" text-anchor="middle" font-size="16.5" fill="#fff">file <tspan font-weight="bold">32.95%</tspan></text>
</svg>
<div style="position:absolute;left:8.60px;top:201.00px;font-family:'Liberation Sans', Arial, sans-serif;font-size:12.6px;font-weight:bold;line-height:normal;color:#1a1c21;">Scoring: max score</div>
<div style="position:absolute;left:8.60px;top:447.00px;font-family:'Liberation Sans', Arial, sans-serif;font-size:12.6px;font-weight:bold;line-height:normal;color:#1a1c21;transform:scaleX(1.012);transform-origin:0 0;">Scoring: amount of scored</div>
<div style="position:absolute;left:1071.50px;top:447.00px;font-family:'Liberation Sans', Arial, sans-serif;font-size:12.6px;font-weight:bold;line-height:normal;color:#1a1c21;transform:scaleX(1.02);transform-origin:0 0;">Scoring: amount of scored per adeEventType</div>
<div style="position:absolute;left:1385.15px;top:236.75px;width:8.5px;height:8.5px;border-radius:50%;background:#68bc00;"></div>
<div style="position:absolute;left:1402.30px;top:233.00px;font-family:'Liberation Sans', Arial, sans-serif;font-size:13.7px;font-weight:normal;line-height:normal;color:#3d414c;">domain.ja3Outbound.tls.s...</div>
<div style="position:absolute;left:1385.15px;top:259.35px;width:8.5px;height:8.5px;border-radius:50%;background:#009ce0;"></div>
<div style="position:absolute;left:1402.30px;top:256.00px;font-family:'Liberation Sans', Arial, sans-serif;font-size:13.7px;font-weight:normal;line-height:normal;color:#3d414c;">dstPort.ja3Outbound.tls.s...</div>
<div style="position:absolute;left:1385.15px;top:281.95px;width:8.5px;height:8.5px;border-radius:50%;background:#b0bc00;"></div>
<div style="position:absolute;left:1402.30px;top:278.00px;font-family:'Liberation Sans', Arial, sans-serif;font-size:13.7px;font-weight:normal;line-height:normal;color:#3d414c;">dstPort.sslSubjectOutbou...</div>
<div style="position:absolute;left:1385.15px;top:304.45px;width:8.5px;height:8.5px;border-radius:50%;background:#16a5a5;"></div>
<div style="position:absolute;left:1402.30px;top:301.00px;font-family:'Liberation Sans', Arial, sans-serif;font-size:13.7px;font-weight:normal;line-height:normal;color:#3d414c;">sslSubject.ja3Outbound.t...</div>
<div style="position:absolute;left:1385.15px;top:327.05px;width:8.5px;height:8.5px;border-radius:50%;background:#d33115;"></div>
<div style="position:absolute;left:1402.30px;top:324.00px;font-family:'Liberation Sans', Arial, sans-serif;font-size:13.7px;font-weight:normal;line-height:normal;color:#3d414c;">startInstant.ja3Outbound...</div>
<div style="position:absolute;left:1385.15px;top:349.65px;width:8.5px;height:8.5px;border-radius:50%;background:#e27300;"></div>
<div style="position:absolute;left:1402.30px;top:346.00px;font-family:'Liberation Sans', Arial, sans-serif;font-size:13.7px;font-weight:normal;line-height:normal;color:#3d414c;">startInstant.sslSubjectOu...</div>
<div style="position:absolute;left:1385.15px;top:372.15px;width:8.5px;height:8.5px;border-radius:50%;background:#fcc400;"></div>
<div style="position:absolute;left:1402.30px;top:369.00px;font-family:'Liberation Sans', Arial, sans-serif;font-size:13.7px;font-weight:normal;line-height:normal;color:#3d414c;">tls-event-score</div>
<div style="position:absolute;left:1385.15px;top:394.75px;width:8.5px;height:8.5px;border-radius:50%;background:#7b64ff;"></div>
<div style="position:absolute;left:1402.30px;top:391.00px;font-family:'Liberation Sans', Arial, sans-serif;font-size:13.7px;font-weight:normal;line-height:normal;color:#3d414c;">dstPort.domainOutbound...</div>
<div style="position:absolute;left:1385.15px;top:417.35px;width:8.5px;height:8.5px;border-radius:50%;background:#fa28ff;"></div>
<div style="position:absolute;left:1402.30px;top:414.00px;font-family:'Liberation Sans', Arial, sans-serif;font-size:13.7px;font-weight:normal;line-height:normal;color:#3d414c;">activeDirectory-event-sc...</div><div style="position:absolute;left:853.15px;top:483.05px;width:8.5px;height:8.5px;border-radius:50%;background:#68bc00;"></div>
<div style="position:absolute;left:870.20px;top:480.00px;font-family:'Liberation Sans', Arial, sans-serif;font-size:13.7px;font-weight:normal;line-height:normal;color:#3d414c;">domain.ja3Outbound.tls.s...</div>
<div style="position:absolute;left:853.15px;top:505.65px;width:8.5px;height:8.5px;border-radius:50%;background:#009ce0;"></div>
<div style="position:absolute;left:870.20px;top:502.00px;font-family:'Liberation Sans', Arial, sans-serif;font-size:13.7px;font-weight:normal;line-height:normal;color:#3d414c;">dstPort.ja3Outbound.tls.s...</div>
<div style="position:absolute;left:853.15px;top:528.15px;width:8.5px;height:8.5px;border-radius:50%;background:#b0bc00;"></div>
<div style="position:absolute;left:870.20px;top:525.00px;font-family:'Liberation Sans', Arial, sans-serif;font-size:13.7px;font-weight:normal;line-height:normal;color:#3d414c;">dstPort.sslSubjectOutbou...</div>
<div style="position:absolute;left:853.15px;top:550.75px;width:8.5px;height:8.5px;border-radius:50%;background:#16a5a5;"></div>
<div style="position:absolute;left:870.20px;top:547.00px;font-family:'Liberation Sans', Arial, sans-serif;font-size:13.7px;font-weight:normal;line-height:normal;color:#3d414c;">sslSubject.ja3Outbound.t...</div>
<div style="position:absolute;left:853.15px;top:573.25px;width:8.5px;height:8.5px;border-radius:50%;background:#d33115;"></div>
<div style="position:absolute;left:870.20px;top:570.00px;font-family:'Liberation Sans', Arial, sans-serif;font-size:13.7px;font-weight:normal;line-height:normal;color:#3d414c;">startInstant.ja3Outbound...</div>
<div style="position:absolute;left:853.15px;top:595.85px;width:8.5px;height:8.5px;border-radius:50%;background:#e27300;"></div>
<div style="position:absolute;left:870.20px;top:592.00px;font-family:'Liberation Sans', Arial, sans-serif;font-size:13.7px;font-weight:normal;line-height:normal;color:#3d414c;">startInstant.sslSubjectOu...</div>
<div style="position:absolute;left:853.15px;top:618.35px;width:8.5px;height:8.5px;border-radius:50%;background:#fcc400;"></div>
<div style="position:absolute;left:870.20px;top:615.00px;font-family:'Liberation Sans', Arial, sans-serif;font-size:13.7px;font-weight:normal;line-height:normal;color:#3d414c;">tls-event-score</div>
<div style="position:absolute;left:853.15px;top:640.95px;width:8.5px;height:8.5px;border-radius:50%;background:#7b64ff;"></div>
<div style="position:absolute;left:870.20px;top:637.00px;font-family:'Liberation Sans', Arial, sans-serif;font-size:13.7px;font-weight:normal;line-height:normal;color:#3d414c;">dstPort.domainOutbound...</div>
<div style="position:absolute;left:853.15px;top:663.45px;width:8.5px;height:8.5px;border-radius:50%;background:#fa28ff;"></div>
<div style="position:absolute;left:870.20px;top:660.00px;font-family:'Liberation Sans', Arial, sans-serif;font-size:13.7px;font-weight:normal;line-height:normal;color:#3d414c;">activeDirectory-event-sc...</div><div style="position:absolute;left:1384.95px;top:482.55px;width:8.5px;height:8.5px;border-radius:50%;background:#00a69b;"></div>
<div style="position:absolute;left:1402.20px;top:479.00px;font-family:'Liberation Sans', Arial, sans-serif;font-size:13.7px;font-weight:normal;line-height:normal;color:#3d414c;">tls</div>
<svg style="position:absolute;left:1557.1px;top:481.8px" width="5" height="14" viewBox="0 0 5 14"><rect x="1" y="0.5" width="2.4" height="2.2" fill="#fff" stroke="#343741" stroke-width="0.9"/><rect x="1" y="5.1" width="2.4" height="2.2" fill="#fff" stroke="#343741" stroke-width="0.9"/><rect x="1" y="9.7" width="2.4" height="2.2" fill="#fff" stroke="#343741" stroke-width="0.9"/></svg>
<div style="position:absolute;left:1384.95px;top:505.15px;width:8.5px;height:8.5px;border-radius:50%;background:#57c17b;"></div>
<div style="position:absolute;left:1402.20px;top:502.00px;font-family:'Liberation Sans', Arial, sans-serif;font-size:13.7px;font-weight:normal;line-height:normal;color:#3d414c;">registry</div>
<svg style="position:absolute;left:1557.1px;top:504.4px" width="5" height="14" viewBox="0 0 5 14"><rect x="1" y="0.5" width="2.4" height="2.2" fill="#fff" stroke="#343741" stroke-width="0.9"/><rect x="1" y="5.1" width="2.4" height="2.2" fill="#fff" stroke="#343741" stroke-width="0.9"/><rect x="1" y="9.7" width="2.4" height="2.2" fill="#fff" stroke="#343741" stroke-width="0.9"/></svg>
<div style="position:absolute;left:1384.95px;top:527.65px;width:8.5px;height:8.5px;border-radius:50%;background:#6f87d8;"></div>
<div style="position:absolute;left:1402.20px;top:524.00px;font-family:'Liberation Sans', Arial, sans-serif;font-size:13.7px;font-weight:normal;line-height:normal;color:#3d414c;">process</div>
<svg style="position:absolute;left:1557.1px;top:526.9px" width="5" height="14" viewBox="0 0 5 14"><rect x="1" y="0.5" width="2.4" height="2.2" fill="#fff" stroke="#343741" stroke-width="0.9"/><rect x="1" y="5.1" width="2.4" height="2.2" fill="#fff" stroke="#343741" stroke-width="0.9"/><rect x="1" y="9.7" width="2.4" height="2.2" fill="#fff" stroke="#343741" stroke-width="0.9"/></svg>
<div style="position:absolute;left:1384.95px;top:550.25px;width:8.5px;height:8.5px;border-radius:50%;background:#663db8;"></div>
<div style="position:absolute;left:1402.20px;top:547.00px;font-family:'Liberation Sans', Arial, sans-serif;font-size:13.7px;font-weight:normal;line-height:normal;color:#3d414c;">file</div>
<svg style="position:absolute;left:1557.1px;top:549.5px" width="5" height="14" viewBox="0 0 5 14"><rect x="1" y="0.5" width="2.4" height="2.2" fill="#fff" stroke="#343741" stroke-width="0.9"/><rect x="1" y="5.1" width="2.4" height="2.2" fill="#fff" stroke="#343741" stroke-width="0.9"/><rect x="1" y="9.7" width="2.4" height="2.2" fill="#fff" stroke="#343741" stroke-width="0.9"/></svg>
<div style="position:absolute;left:1384.95px;top:572.75px;width:8.5px;height:8.5px;border-radius:50%;background:#bc52bc;"></div>
<div style="position:absolute;left:1402.20px;top:569.00px;font-family:'Liberation Sans', Arial, sans-serif;font-size:13.7px;font-weight:normal;line-height:normal;color:#3d414c;">authentication</div>
<svg style="position:absolute;left:1557.1px;top:572.0px" width="5" height="14" viewBox="0 0 5 14"><rect x="1" y="0.5" width="2.4" height="2.2" fill="#fff" stroke="#343741" stroke-width="0.9"/><rect x="1" y="5.1" width="2.4" height="2.2" fill="#fff" stroke="#343741" stroke-width="0.9"/><rect x="1" y="9.7" width="2.4" height="2.2" fill="#fff" stroke="#343741" stroke-width="0.9"/></svg>
<div style="position:absolute;left:1384.95px;top:595.35px;width:8.5px;height:8.5px;border-radius:50%;background:#9e3533;"></div>
<div style="position:absolute;left:1402.20px;top:592.00px;font-family:'Liberation Sans', Arial, sans-serif;font-size:13.7px;font-weight:normal;line-height:normal;color:#3d414c;">aggr_event.userPass...</div>
<svg style="position:absolute;left:1557.1px;top:594.6px" width="5" height="14" viewBox="0 0 5 14"><rect x="1" y="0.5" width="2.4" height="2.2" fill="#fff" stroke="#343741" stroke-width="0.9"/><rect x="1" y="5.1" width="2.4" height="2.2" fill="#fff" stroke="#343741" stroke-width="0.9"/><rect x="1" y="9.7" width="2.4" height="2.2" fill="#fff" stroke="#343741" stroke-width="0.9"/></svg>
<div style="position:absolute;left:1384.95px;top:617.85px;width:8.5px;height:8.5px;border-radius:50%;background:#daa05d;"></div>
<div style="position:absolute;left:1402.20px;top:614.00px;font-family:'Liberation Sans', Arial, sans-serif;font-size:13.7px;font-weight:normal;line-height:normal;color:#3d414c;">aggr_event.userAcco...</div>
<svg style="position:absolute;left:1557.1px;top:617.1px" width="5" height="14" viewBox="0 0 5 14"><rect x="1" y="0.5" width="2.4" height="2.2" fill="#fff" stroke="#343741" stroke-width="0.9"/><rect x="1" y="5.1" width="2.4" height="2.2" fill="#fff" stroke="#343741" stroke-width="0.9"/><rect x="1" y="9.7" width="2.4" height="2.2" fill="#fff" stroke="#343741" stroke-width="0.9"/></svg>
<div style="position:absolute;left:1384.95px;top:640.45px;width:8.5px;height:8.5px;border-radius:50%;background:#bfaf40;"></div>
<div style="position:absolute;left:1402.20px;top:637.00px;font-family:'Liberation Sans', Arial, sans-serif;font-size:13.7px;font-weight:normal;line-height:normal;color:#3d414c;">aggr_event.userAcco...</div>
<svg style="position:absolute;left:1557.1px;top:639.7px" width="5" height="14" viewBox="0 0 5 14"><rect x="1" y="0.5" width="2.4" height="2.2" fill="#fff" stroke="#343741" stroke-width="0.9"/><rect x="1" y="5.1" width="2.4" height="2.2" fill="#fff" stroke="#343741" stroke-width="0.9"/><rect x="1" y="9.7" width="2.4" height="2.2" fill="#fff" stroke="#343741" stroke-width="0.9"/></svg>
<div style="position:absolute;left:1384.95px;top:662.95px;width:8.5px;height:8.5px;border-radius:50%;background:#4050bf;"></div>
<div style="position:absolute;left:1402.20px;top:659.00px;font-family:'Liberation Sans', Arial, sans-serif;font-size:13.7px;font-weight:normal;line-height:normal;color:#3d414c;">aggr_event.userAcco...</div>
<svg style="position:absolute;left:1557.1px;top:662.2px" width="5" height="14" viewBox="0 0 5 14"><rect x="1" y="0.5" width="2.4" height="2.2" fill="#fff" stroke="#343741" stroke-width="0.9"/><rect x="1" y="5.1" width="2.4" height="2.2" fill="#fff" stroke="#343741" stroke-width="0.9"/><rect x="1" y="9.7" width="2.4" height="2.2" fill="#fff" stroke="#343741" stroke-width="0.9"/></svg>
<div style="position:absolute;left:1576px;top:235px;width:4.5px;height:29px;border-radius:3px;background:#a7abb3;"></div>
<div style="position:absolute;left:1045px;top:482px;width:4px;height:27px;border-radius:3px;background:#a7abb3;"></div>
<div style="position:absolute;left:1576.1px;top:480.7px;width:3.8px;height:25px;border-radius:3px;background:#a7abb3;"></div>
<div style="position:absolute;left:1067.5px;top:658.7px;width:24.6px;height:24.3px;border-radius:4px;background:#f4f6f9;"></div>
<svg style="position:absolute;left:1073px;top:664px" width="15" height="14" viewBox="0 0 15 14"><path d="M0.6 2.4h2.3M0.6 5.4h2.3M0.6 8.4h2.3M0.6 11.5h2.3M5 2.4h8.2M5 5.4h8.2M5 8.4h8.2M5 11.5h8.2" stroke="#69707d" stroke-width="1.05"/></svg>

</body></html>
